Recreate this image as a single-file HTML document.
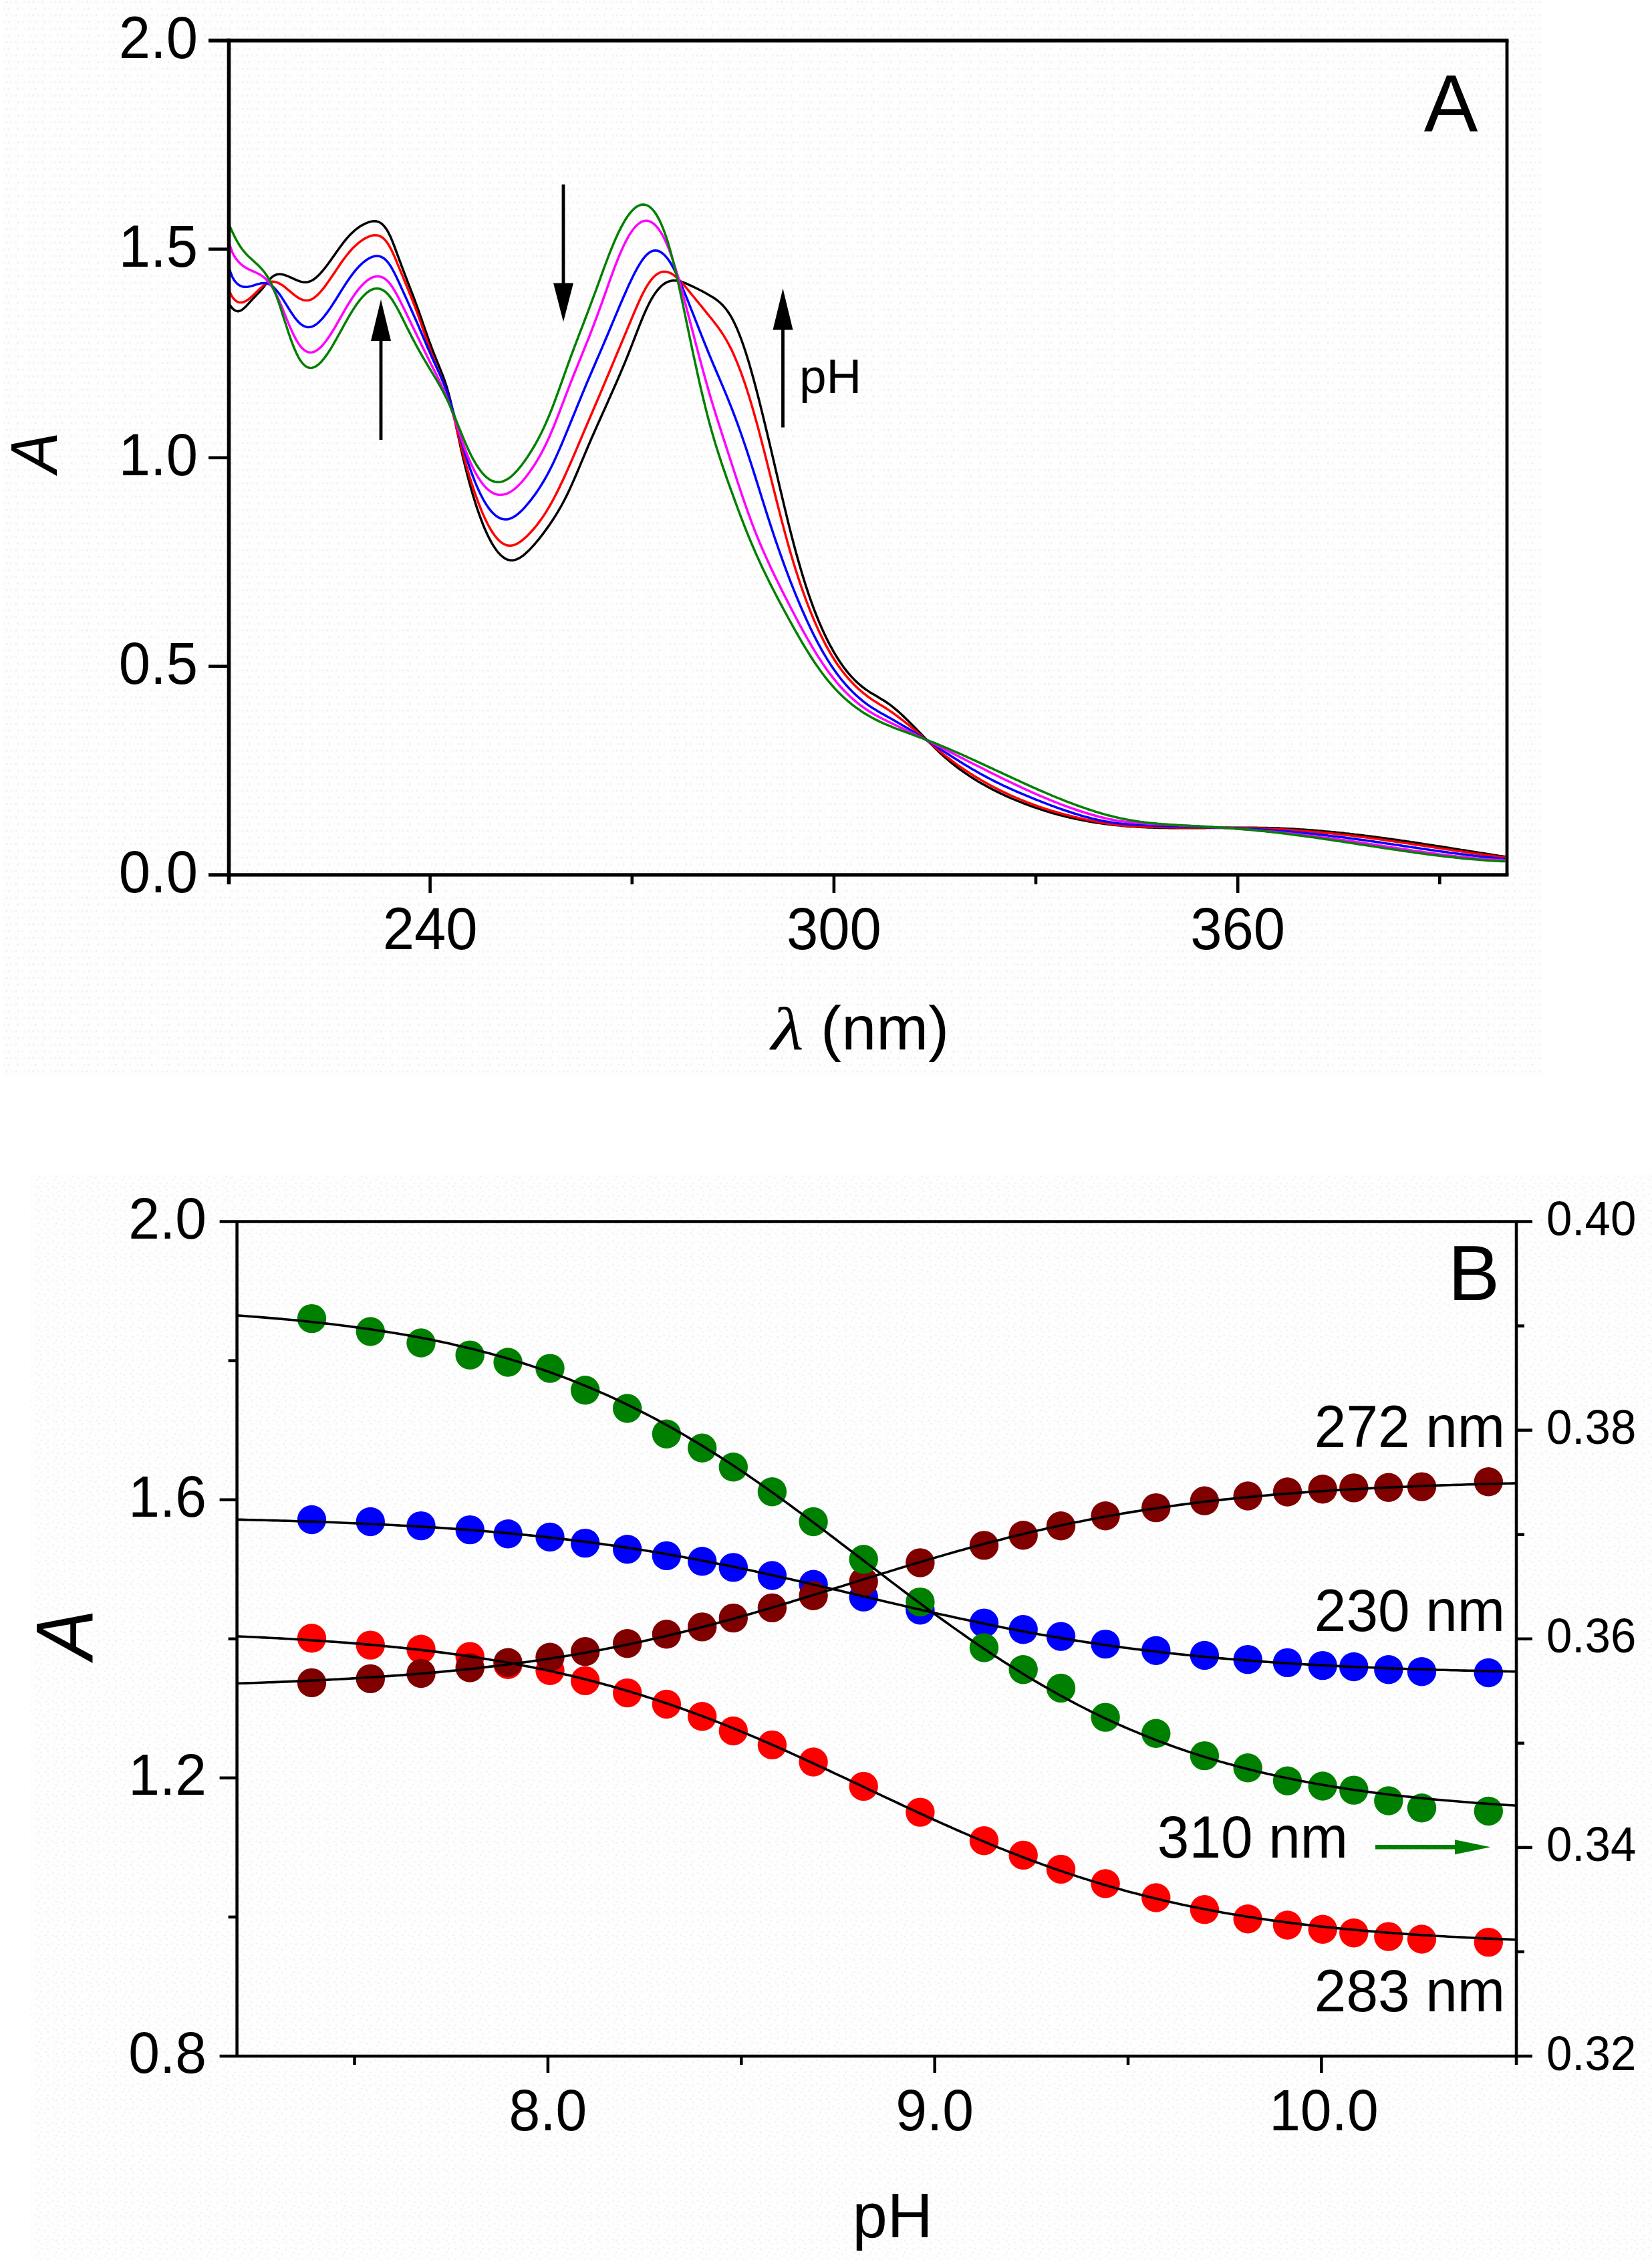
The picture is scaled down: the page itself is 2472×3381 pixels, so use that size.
<!DOCTYPE html>
<html><head><meta charset="utf-8"><title>Figure</title>
<style>html,body{margin:0;padding:0;background:#fff;width:2472px;height:3381px}svg{display:block}text{font-family:"Liberation Sans",sans-serif;fill:#000}.it{font-style:italic}.lam{font-family:"Liberation Serif","DejaVu Serif",serif;font-style:italic}</style>
</head><body>
<svg width="2472" height="3381" viewBox="0 0 2472 3381">
<rect x="0" y="0" width="2472" height="3381" fill="#fff"/>
<defs>
<pattern id="pa" width="40" height="20" patternUnits="userSpaceOnUse"><rect width="40" height="20" fill="#fefefe"/><g opacity="0.45"><circle cx="3" cy="3" r="1.7" fill="#dfe8df"/><circle cx="10" cy="3" r="1.7" fill="#e6dcf6"/><circle cx="17" cy="3" r="1.7" fill="#fbeadb"/><circle cx="24" cy="3" r="1.7" fill="#dfe8df"/><circle cx="37" cy="3" r="1.7" fill="#fbeadb"/><circle cx="6" cy="13" r="1.7" fill="#fbeadb"/><circle cx="13" cy="13" r="1.7" fill="#dfe8df"/><circle cx="27" cy="13" r="1.7" fill="#e6dcf6"/><circle cx="34" cy="13" r="1.7" fill="#fbeadb"/></g></pattern>
<pattern id="pb" width="25.4" height="35" patternUnits="userSpaceOnUse"><rect width="25.4" height="35" fill="#fefefe"/><g opacity="0.45"><circle cx="3" cy="2" r="1.6" fill="#efe6e6"/><circle cx="11" cy="4" r="1.6" fill="#efe6e6"/><circle cx="21" cy="5" r="1.6" fill="#d5e7f4"/><circle cx="8" cy="10" r="1.6" fill="#d5e7f4"/><circle cx="16" cy="12" r="1.6" fill="#efe6e6"/><circle cx="5" cy="15" r="1.6" fill="#efe6e6"/><circle cx="11" cy="20" r="1.6" fill="#efe6e6"/><circle cx="21" cy="20" r="1.6" fill="#efe6e6"/><circle cx="3" cy="25" r="1.6" fill="#efe6e6"/><circle cx="18" cy="25" r="1.6" fill="#d5e7f4"/><circle cx="8" cy="27" r="1.6" fill="#d5e7f4"/><circle cx="21" cy="30" r="1.6" fill="#efe6e6"/><circle cx="11" cy="32" r="1.6" fill="#e6f4d8"/></g></pattern>
</defs>
<rect x="5" y="0" width="2301" height="1611" fill="url(#pa)"/>
<rect x="47" y="1756" width="2425" height="1625" fill="url(#pb)"/>
<g id="panelA">
<clipPath id="clipA"><rect x="341.5" y="60.6" width="1913.5" height="1248.3"/></clipPath>
<g clip-path="url(#clipA)" fill="none" stroke-width="3.5" stroke-linejoin="round">
<path d="M341.5 451.7L344.5 457.1L347.5 461.0L350.5 463.8L353.5 465.3L356.5 465.7L359.5 464.9L362.5 463.2L365.5 460.8L368.5 457.9L371.5 454.6L374.5 451.3L377.5 447.9L380.5 444.7L383.5 441.6L386.5 438.6L389.5 435.3L392.5 431.9L395.5 428.2L398.5 424.3L401.5 420.4L404.5 417.0L407.5 414.1L410.5 412.1L413.5 410.8L416.5 410.2L419.5 410.2L422.5 410.6L425.5 411.3L428.5 412.3L431.5 413.5L434.5 414.8L437.5 416.2L440.5 417.6L443.5 418.9L446.5 420.1L449.5 421.1L452.5 421.9L455.5 422.2L458.5 422.2L461.5 421.7L464.5 420.7L467.5 419.2L470.5 417.2L473.5 414.8L476.5 412.0L479.5 408.9L482.5 405.5L485.5 401.9L488.5 398.0L491.5 394.0L494.5 389.9L497.5 385.6L500.5 381.4L503.5 377.1L506.5 372.9L509.5 368.8L512.5 364.7L515.5 360.9L518.5 357.2L521.5 353.8L524.5 350.6L527.5 347.7L530.5 345.0L533.5 342.5L536.5 340.3L539.5 338.3L542.5 336.6L545.5 335.0L548.5 333.7L551.5 332.5L554.5 331.6L557.5 331.0L560.5 330.8L563.5 331.1L566.5 332.0L569.5 333.5L572.5 335.9L575.5 339.1L578.5 343.2L581.5 348.4L584.5 354.6L587.5 361.8L590.5 369.5L593.5 377.6L596.5 385.8L599.5 393.9L602.5 401.9L605.5 409.8L608.5 417.7L611.5 425.5L614.5 433.2L617.5 441.0L620.5 448.9L623.5 457.0L626.5 465.3L629.5 473.8L632.5 482.5L635.5 491.2L638.5 499.8L641.5 508.3L644.5 516.4L647.5 524.3L650.5 531.9L653.5 539.4L656.5 546.7L659.5 554.1L662.5 561.7L665.5 569.9L668.5 579.0L671.5 589.4L674.5 601.1L677.5 614.1L680.5 627.9L683.5 642.1L686.5 656.2L689.5 669.8L692.5 682.9L695.5 695.4L698.5 707.3L701.5 718.8L704.5 729.6L707.5 740.0L710.5 749.8L713.5 759.2L716.5 767.9L719.5 776.2L722.5 784.0L725.5 791.3L728.5 798.0L731.5 804.2L734.5 809.9L737.5 815.1L740.5 819.8L743.5 824.0L746.5 827.6L749.5 830.7L752.5 833.3L755.5 835.4L758.5 836.9L761.5 837.8L764.5 838.3L767.5 838.2L770.5 837.6L773.5 836.6L776.5 835.2L779.5 833.4L782.5 831.3L785.5 828.8L788.5 826.1L791.5 823.2L794.5 820.1L797.5 816.9L800.5 813.5L803.5 809.9L806.5 806.3L809.5 802.5L812.5 798.6L815.5 794.5L818.5 790.4L821.5 786.2L824.5 781.8L827.5 777.3L830.5 772.6L833.5 767.8L836.5 762.7L839.5 757.5L842.5 752.0L845.5 746.2L848.5 740.3L851.5 734.0L854.5 727.5L857.5 720.8L860.5 714.0L863.5 707.0L866.5 699.9L869.5 692.7L872.5 685.6L875.5 678.4L878.5 671.3L881.5 664.3L884.5 657.3L887.5 650.5L890.5 643.7L893.5 636.9L896.5 630.2L899.5 623.5L902.5 616.9L905.5 610.2L908.5 603.5L911.5 596.8L914.5 590.0L917.5 583.3L920.5 576.5L923.5 569.6L926.5 562.7L929.5 555.6L932.5 548.5L935.5 541.3L938.5 534.0L941.5 526.5L944.5 518.9L947.5 511.1L950.5 503.4L953.5 495.6L956.5 487.9L959.5 480.5L962.5 473.2L965.5 466.2L968.5 459.7L971.5 453.6L974.5 448.0L977.5 443.0L980.5 438.5L983.5 434.5L986.5 431.0L989.5 428.0L992.5 425.5L995.5 423.5L998.5 421.9L1001.5 420.8L1004.5 420.1L1007.5 419.7L1010.5 419.8L1013.5 420.1L1016.5 420.7L1019.5 421.5L1022.5 422.5L1025.5 423.7L1028.5 424.9L1031.5 426.3L1034.5 427.7L1037.5 429.1L1040.5 430.5L1043.5 432.0L1046.5 433.5L1049.5 435.0L1052.5 436.6L1055.5 438.3L1058.5 440.0L1061.5 441.7L1064.5 443.5L1067.5 445.3L1070.5 447.3L1073.5 449.5L1076.5 452.0L1079.5 454.7L1082.5 457.8L1085.5 461.3L1088.5 465.2L1091.5 469.7L1094.5 474.7L1097.5 480.3L1100.5 486.5L1103.5 493.3L1106.5 500.6L1109.5 508.5L1112.5 517.0L1115.5 526.0L1118.5 535.5L1121.5 545.5L1124.5 555.9L1127.5 566.8L1130.5 578.0L1133.5 589.5L1136.5 601.3L1139.5 613.4L1142.5 625.6L1145.5 638.0L1148.5 650.5L1151.5 663.2L1154.5 675.9L1157.5 688.7L1160.5 701.6L1163.5 714.4L1166.5 727.3L1169.5 740.0L1172.5 752.7L1175.5 765.2L1178.5 777.6L1181.5 789.6L1184.5 801.5L1187.5 813.0L1190.5 824.2L1193.5 835.0L1196.5 845.6L1199.5 855.8L1202.5 865.7L1205.5 875.2L1208.5 884.4L1211.5 893.2L1214.5 901.7L1217.5 909.9L1220.5 917.7L1223.5 925.2L1226.5 932.4L1229.5 939.3L1232.5 945.9L1235.5 952.3L1238.5 958.4L1241.5 964.2L1244.5 969.7L1247.5 975.1L1250.5 980.1L1253.5 985.0L1256.5 989.6L1259.5 994.0L1262.5 998.2L1265.5 1002.1L1268.5 1005.9L1271.5 1009.4L1274.5 1012.8L1277.5 1015.9L1280.5 1018.9L1283.5 1021.7L1286.5 1024.3L1289.5 1026.8L1292.5 1029.2L1295.5 1031.4L1298.5 1033.4L1301.5 1035.4L1304.5 1037.3L1307.5 1039.1L1310.5 1040.8L1313.5 1042.6L1316.5 1044.4L1319.5 1046.2L1322.5 1048.0L1325.5 1049.9L1328.5 1052.0L1331.5 1054.1L1334.5 1056.4L1337.5 1058.8L1340.5 1061.3L1343.5 1063.9L1346.5 1066.5L1349.5 1069.3L1352.5 1072.1L1355.5 1075.0L1358.5 1077.9L1361.5 1080.9L1364.5 1083.9L1367.5 1087.0L1370.5 1090.0L1373.5 1093.1L1376.5 1096.2L1379.5 1099.3L1382.5 1102.4L1385.5 1105.5L1388.5 1108.5L1391.5 1111.5L1394.5 1114.5L1397.5 1117.5L1400.5 1120.4L1403.5 1123.3L1406.5 1126.1L1409.5 1128.9L1412.5 1131.6L1415.5 1134.2L1418.5 1136.8L1421.5 1139.3L1424.5 1141.8L1427.5 1144.2L1430.5 1146.5L1433.5 1148.8L1436.5 1151.0L1439.5 1153.2L1442.5 1155.3L1445.5 1157.4L1448.5 1159.4L1451.5 1161.4L1454.5 1163.3L1457.5 1165.2L1460.5 1167.1L1463.5 1168.9L1466.5 1170.7L1469.5 1172.4L1472.5 1174.1L1475.5 1175.8L1478.5 1177.4L1481.5 1179.0L1484.5 1180.6L1487.5 1182.1L1490.5 1183.6L1493.5 1185.1L1496.5 1186.6L1499.5 1188.0L1502.5 1189.4L1505.5 1190.8L1508.5 1192.1L1511.5 1193.5L1514.5 1194.8L1517.5 1196.0L1520.5 1197.3L1523.5 1198.5L1526.5 1199.7L1529.5 1200.9L1532.5 1202.1L1535.5 1203.2L1538.5 1204.3L1541.5 1205.4L1544.5 1206.5L1547.5 1207.6L1550.5 1208.6L1553.5 1209.6L1556.5 1210.6L1559.5 1211.6L1562.5 1212.6L1565.5 1213.5L1568.5 1214.4L1571.5 1215.3L1574.5 1216.2L1577.5 1217.0L1580.5 1217.9L1583.5 1218.7L1586.5 1219.5L1589.5 1220.3L1592.5 1221.0L1595.5 1221.8L1598.5 1222.5L1601.5 1223.2L1604.5 1223.9L1607.5 1224.5L1610.5 1225.2L1613.5 1225.8L1616.5 1226.4L1619.5 1227.0L1622.5 1227.6L1625.5 1228.1L1628.5 1228.7L1631.5 1229.2L1634.5 1229.7L1637.5 1230.2L1640.5 1230.7L1643.5 1231.1L1646.5 1231.6L1649.5 1232.0L1652.5 1232.4L1655.5 1232.8L1658.5 1233.2L1661.5 1233.5L1664.5 1233.9L1667.5 1234.2L1670.5 1234.5L1673.5 1234.8L1676.5 1235.1L1679.5 1235.4L1682.5 1235.7L1685.5 1235.9L1688.5 1236.2L1691.5 1236.4L1694.5 1236.6L1697.5 1236.8L1700.5 1237.0L1703.5 1237.2L1706.5 1237.3L1709.5 1237.5L1712.5 1237.6L1715.5 1237.8L1718.5 1237.9L1721.5 1238.0L1724.5 1238.1L1727.5 1238.2L1730.5 1238.3L1733.5 1238.4L1736.5 1238.5L1739.5 1238.5L1742.5 1238.6L1745.5 1238.6L1748.5 1238.7L1751.5 1238.7L1754.5 1238.8L1757.5 1238.8L1760.5 1238.8L1763.5 1238.8L1766.5 1238.8L1769.5 1238.8L1772.5 1238.8L1775.5 1238.8L1778.5 1238.8L1781.5 1238.8L1784.5 1238.8L1787.5 1238.8L1790.5 1238.8L1793.5 1238.7L1796.5 1238.7L1799.5 1238.7L1802.5 1238.7L1805.5 1238.6L1808.5 1238.6L1811.5 1238.6L1814.5 1238.5L1817.5 1238.5L1820.5 1238.5L1823.5 1238.5L1826.5 1238.4L1829.5 1238.4L1832.5 1238.4L1835.5 1238.3L1838.5 1238.3L1841.5 1238.3L1844.5 1238.3L1847.5 1238.3L1850.5 1238.2L1853.5 1238.2L1856.5 1238.2L1859.5 1238.2L1862.5 1238.2L1865.5 1238.2L1868.5 1238.2L1871.5 1238.2L1874.5 1238.3L1877.5 1238.3L1880.5 1238.3L1883.5 1238.4L1886.5 1238.4L1889.5 1238.5L1892.5 1238.5L1895.5 1238.6L1898.5 1238.7L1901.5 1238.7L1904.5 1238.8L1907.5 1238.9L1910.5 1239.0L1913.5 1239.1L1916.5 1239.3L1919.5 1239.4L1922.5 1239.5L1925.5 1239.7L1928.5 1239.8L1931.5 1240.0L1934.5 1240.1L1937.5 1240.3L1940.5 1240.5L1943.5 1240.7L1946.5 1240.9L1949.5 1241.1L1952.5 1241.3L1955.5 1241.5L1958.5 1241.7L1961.5 1241.9L1964.5 1242.1L1967.5 1242.4L1970.5 1242.6L1973.5 1242.9L1976.5 1243.1L1979.5 1243.4L1982.5 1243.7L1985.5 1243.9L1988.5 1244.2L1991.5 1244.5L1994.5 1244.8L1997.5 1245.1L2000.5 1245.4L2003.5 1245.7L2006.5 1246.0L2009.5 1246.3L2012.5 1246.7L2015.5 1247.0L2018.5 1247.3L2021.5 1247.7L2024.5 1248.0L2027.5 1248.4L2030.5 1248.7L2033.5 1249.1L2036.5 1249.4L2039.5 1249.8L2042.5 1250.2L2045.5 1250.5L2048.5 1250.9L2051.5 1251.3L2054.5 1251.7L2057.5 1252.1L2060.5 1252.5L2063.5 1252.9L2066.5 1253.3L2069.5 1253.7L2072.5 1254.1L2075.5 1254.5L2078.5 1254.9L2081.5 1255.3L2084.5 1255.8L2087.5 1256.2L2090.5 1256.6L2093.5 1257.0L2096.5 1257.5L2099.5 1257.9L2102.5 1258.3L2105.5 1258.8L2108.5 1259.2L2111.5 1259.7L2114.5 1260.1L2117.5 1260.6L2120.5 1261.0L2123.5 1261.5L2126.5 1261.9L2129.5 1262.4L2132.5 1262.9L2135.5 1263.3L2138.5 1263.8L2141.5 1264.2L2144.5 1264.7L2147.5 1265.2L2150.5 1265.7L2153.5 1266.1L2156.5 1266.6L2159.5 1267.1L2162.5 1267.5L2165.5 1268.0L2168.5 1268.5L2171.5 1269.0L2174.5 1269.4L2177.5 1269.9L2180.5 1270.4L2183.5 1270.9L2186.5 1271.4L2189.5 1271.8L2192.5 1272.3L2195.5 1272.8L2198.5 1273.3L2201.5 1273.8L2204.5 1274.2L2207.5 1274.7L2210.5 1275.2L2213.5 1275.7L2216.5 1276.1L2219.5 1276.6L2222.5 1277.1L2225.5 1277.6L2228.5 1278.0L2231.5 1278.5L2234.5 1279.0L2237.5 1279.4L2240.5 1279.9L2243.5 1280.4L2246.5 1280.8L2249.5 1281.3L2252.5 1281.8" stroke="#000"/>
<path d="M341.5 430.9L344.5 438.4L347.5 444.0L350.5 447.9L353.5 450.5L356.5 452.0L359.5 452.6L362.5 452.4L365.5 451.5L368.5 450.0L371.5 448.0L374.5 445.6L377.5 443.0L380.5 440.1L383.5 437.2L386.5 434.2L389.5 431.4L392.5 428.7L395.5 426.3L398.5 424.2L401.5 422.6L404.5 421.7L407.5 421.3L410.5 421.5L413.5 422.2L416.5 423.4L419.5 424.9L422.5 426.8L425.5 428.9L428.5 431.3L431.5 433.8L434.5 436.3L437.5 438.9L440.5 441.3L443.5 443.5L446.5 445.5L449.5 447.2L452.5 448.4L455.5 449.2L458.5 449.6L461.5 449.3L464.5 448.5L467.5 447.1L470.5 445.1L473.5 442.7L476.5 439.9L479.5 436.7L482.5 433.2L485.5 429.4L488.5 425.3L491.5 421.1L494.5 416.8L497.5 412.3L500.5 407.9L503.5 403.4L506.5 399.0L509.5 394.6L512.5 390.3L515.5 386.2L518.5 382.3L521.5 378.5L524.5 375.0L527.5 371.8L530.5 368.8L533.5 366.0L536.5 363.4L539.5 361.1L542.5 359.0L545.5 357.1L548.5 355.5L551.5 354.2L554.5 353.0L557.5 352.2L560.5 351.8L563.5 351.9L566.5 352.5L569.5 353.7L572.5 355.6L575.5 358.3L578.5 361.8L581.5 366.2L584.5 371.6L587.5 377.7L590.5 384.4L593.5 391.5L596.5 398.8L599.5 406.0L602.5 413.2L605.5 420.5L608.5 427.8L611.5 435.1L614.5 442.5L617.5 450.1L620.5 457.8L623.5 465.7L626.5 474.0L629.5 482.5L632.5 491.1L635.5 499.9L638.5 508.6L641.5 517.0L644.5 525.2L647.5 533.1L650.5 540.8L653.5 548.2L656.5 555.4L659.5 562.6L662.5 569.8L665.5 577.5L668.5 585.8L671.5 595.2L674.5 605.6L677.5 617.0L680.5 629.1L683.5 641.5L686.5 653.8L689.5 665.8L692.5 677.3L695.5 688.4L698.5 699.0L701.5 709.2L704.5 719.0L707.5 728.3L710.5 737.2L713.5 745.7L716.5 753.8L719.5 761.4L722.5 768.6L725.5 775.3L728.5 781.5L731.5 787.3L734.5 792.5L737.5 797.3L740.5 801.5L743.5 805.2L746.5 808.4L749.5 811.0L752.5 813.1L755.5 814.7L758.5 815.8L761.5 816.3L764.5 816.3L767.5 815.8L770.5 814.9L773.5 813.5L776.5 811.8L779.5 809.8L782.5 807.4L785.5 804.8L788.5 802.0L791.5 799.0L794.5 795.8L797.5 792.5L800.5 789.0L803.5 785.3L806.5 781.4L809.5 777.3L812.5 773.0L815.5 768.4L818.5 763.7L821.5 758.7L824.5 753.4L827.5 748.0L830.5 742.3L833.5 736.4L836.5 730.4L839.5 724.1L842.5 717.7L845.5 711.2L848.5 704.6L851.5 697.8L854.5 691.0L857.5 684.1L860.5 677.1L863.5 670.1L866.5 663.0L869.5 656.0L872.5 648.9L875.5 641.8L878.5 634.8L881.5 627.7L884.5 620.7L887.5 613.7L890.5 606.7L893.5 599.7L896.5 592.7L899.5 585.6L902.5 578.5L905.5 571.4L908.5 564.3L911.5 557.2L914.5 550.0L917.5 542.9L920.5 535.7L923.5 528.6L926.5 521.4L929.5 514.2L932.5 507.1L935.5 499.9L938.5 492.7L941.5 485.5L944.5 478.3L947.5 471.1L950.5 464.1L953.5 457.2L956.5 450.5L959.5 444.1L962.5 438.0L965.5 432.4L968.5 427.2L971.5 422.6L974.5 418.5L977.5 415.1L980.5 412.2L983.5 409.9L986.5 408.2L989.5 407.0L992.5 406.4L995.5 406.4L998.5 406.8L1001.5 407.8L1004.5 409.2L1007.5 411.1L1010.5 413.4L1013.5 416.0L1016.5 418.9L1019.5 422.1L1022.5 425.4L1025.5 428.9L1028.5 432.5L1031.5 436.1L1034.5 439.8L1037.5 443.5L1040.5 447.2L1043.5 450.8L1046.5 454.5L1049.5 458.2L1052.5 461.9L1055.5 465.6L1058.5 469.3L1061.5 473.0L1064.5 476.7L1067.5 480.5L1070.5 484.3L1073.5 488.3L1076.5 492.4L1079.5 496.8L1082.5 501.4L1085.5 506.3L1088.5 511.5L1091.5 517.1L1094.5 523.1L1097.5 529.5L1100.5 536.4L1103.5 543.6L1106.5 551.2L1109.5 559.2L1112.5 567.6L1115.5 576.3L1118.5 585.5L1121.5 595.1L1124.5 605.0L1127.5 615.3L1130.5 625.9L1133.5 636.8L1136.5 648.1L1139.5 659.5L1142.5 671.1L1145.5 682.9L1148.5 694.9L1151.5 706.9L1154.5 718.9L1157.5 730.9L1160.5 742.8L1163.5 754.7L1166.5 766.4L1169.5 778.0L1172.5 789.4L1175.5 800.5L1178.5 811.4L1181.5 822.0L1184.5 832.3L1187.5 842.2L1190.5 851.9L1193.5 861.3L1196.5 870.4L1199.5 879.2L1202.5 887.7L1205.5 896.0L1208.5 904.0L1211.5 911.7L1214.5 919.2L1217.5 926.4L1220.5 933.4L1223.5 940.1L1226.5 946.6L1229.5 952.8L1232.5 958.8L1235.5 964.6L1238.5 970.1L1241.5 975.4L1244.5 980.5L1247.5 985.3L1250.5 990.0L1253.5 994.5L1256.5 998.7L1259.5 1002.8L1262.5 1006.7L1265.5 1010.4L1268.5 1014.0L1271.5 1017.4L1274.5 1020.6L1277.5 1023.8L1280.5 1026.7L1283.5 1029.6L1286.5 1032.3L1289.5 1034.9L1292.5 1037.3L1295.5 1039.7L1298.5 1042.0L1301.5 1044.1L1304.5 1046.2L1307.5 1048.2L1310.5 1050.1L1313.5 1052.0L1316.5 1053.9L1319.5 1055.7L1322.5 1057.6L1325.5 1059.5L1328.5 1061.4L1331.5 1063.4L1334.5 1065.5L1337.5 1067.6L1340.5 1069.8L1343.5 1072.0L1346.5 1074.3L1349.5 1076.6L1352.5 1078.9L1355.5 1081.3L1358.5 1083.7L1361.5 1086.2L1364.5 1088.6L1367.5 1091.1L1370.5 1093.7L1373.5 1096.2L1376.5 1098.8L1379.5 1101.3L1382.5 1103.9L1385.5 1106.5L1388.5 1109.0L1391.5 1111.6L1394.5 1114.2L1397.5 1116.7L1400.5 1119.2L1403.5 1121.7L1406.5 1124.2L1409.5 1126.6L1412.5 1129.0L1415.5 1131.4L1418.5 1133.7L1421.5 1136.0L1424.5 1138.2L1427.5 1140.4L1430.5 1142.6L1433.5 1144.8L1436.5 1146.9L1439.5 1148.9L1442.5 1151.0L1445.5 1153.0L1448.5 1154.9L1451.5 1156.9L1454.5 1158.8L1457.5 1160.7L1460.5 1162.5L1463.5 1164.3L1466.5 1166.1L1469.5 1167.9L1472.5 1169.6L1475.5 1171.3L1478.5 1172.9L1481.5 1174.6L1484.5 1176.2L1487.5 1177.8L1490.5 1179.3L1493.5 1180.9L1496.5 1182.4L1499.5 1183.8L1502.5 1185.3L1505.5 1186.7L1508.5 1188.1L1511.5 1189.5L1514.5 1190.8L1517.5 1192.2L1520.5 1193.5L1523.5 1194.7L1526.5 1196.0L1529.5 1197.2L1532.5 1198.4L1535.5 1199.6L1538.5 1200.8L1541.5 1201.9L1544.5 1203.0L1547.5 1204.1L1550.5 1205.2L1553.5 1206.3L1556.5 1207.3L1559.5 1208.3L1562.5 1209.3L1565.5 1210.3L1568.5 1211.3L1571.5 1212.2L1574.5 1213.1L1577.5 1214.0L1580.5 1214.9L1583.5 1215.8L1586.5 1216.6L1589.5 1217.4L1592.5 1218.2L1595.5 1219.0L1598.5 1219.8L1601.5 1220.6L1604.5 1221.3L1607.5 1222.1L1610.5 1222.8L1613.5 1223.5L1616.5 1224.2L1619.5 1224.8L1622.5 1225.5L1625.5 1226.1L1628.5 1226.7L1631.5 1227.4L1634.5 1228.0L1637.5 1228.5L1640.5 1229.1L1643.5 1229.7L1646.5 1230.2L1649.5 1230.7L1652.5 1231.3L1655.5 1231.7L1658.5 1232.2L1661.5 1232.7L1664.5 1233.1L1667.5 1233.5L1670.5 1233.9L1673.5 1234.3L1676.5 1234.6L1679.5 1234.9L1682.5 1235.2L1685.5 1235.4L1688.5 1235.6L1691.5 1235.8L1694.5 1236.0L1697.5 1236.2L1700.5 1236.3L1703.5 1236.4L1706.5 1236.6L1709.5 1236.7L1712.5 1236.8L1715.5 1236.9L1718.5 1237.0L1721.5 1237.1L1724.5 1237.2L1727.5 1237.3L1730.5 1237.4L1733.5 1237.4L1736.5 1237.5L1739.5 1237.6L1742.5 1237.6L1745.5 1237.7L1748.5 1237.7L1751.5 1237.8L1754.5 1237.8L1757.5 1237.8L1760.5 1237.9L1763.5 1237.9L1766.5 1237.9L1769.5 1237.9L1772.5 1237.9L1775.5 1237.9L1778.5 1238.0L1781.5 1238.0L1784.5 1238.0L1787.5 1238.0L1790.5 1238.0L1793.5 1238.0L1796.5 1238.0L1799.5 1238.1L1802.5 1238.1L1805.5 1238.1L1808.5 1238.1L1811.5 1238.1L1814.5 1238.1L1817.5 1238.2L1820.5 1238.2L1823.5 1238.2L1826.5 1238.2L1829.5 1238.2L1832.5 1238.3L1835.5 1238.3L1838.5 1238.3L1841.5 1238.4L1844.5 1238.4L1847.5 1238.5L1850.5 1238.5L1853.5 1238.6L1856.5 1238.6L1859.5 1238.7L1862.5 1238.7L1865.5 1238.8L1868.5 1238.9L1871.5 1239.0L1874.5 1239.0L1877.5 1239.1L1880.5 1239.2L1883.5 1239.3L1886.5 1239.4L1889.5 1239.5L1892.5 1239.6L1895.5 1239.8L1898.5 1239.9L1901.5 1240.0L1904.5 1240.2L1907.5 1240.3L1910.5 1240.4L1913.5 1240.6L1916.5 1240.8L1919.5 1240.9L1922.5 1241.1L1925.5 1241.3L1928.5 1241.5L1931.5 1241.7L1934.5 1241.9L1937.5 1242.1L1940.5 1242.3L1943.5 1242.5L1946.5 1242.7L1949.5 1243.0L1952.5 1243.2L1955.5 1243.4L1958.5 1243.7L1961.5 1243.9L1964.5 1244.2L1967.5 1244.5L1970.5 1244.7L1973.5 1245.0L1976.5 1245.3L1979.5 1245.6L1982.5 1245.9L1985.5 1246.2L1988.5 1246.5L1991.5 1246.8L1994.5 1247.1L1997.5 1247.4L2000.5 1247.7L2003.5 1248.0L2006.5 1248.4L2009.5 1248.7L2012.5 1249.1L2015.5 1249.4L2018.5 1249.8L2021.5 1250.1L2024.5 1250.5L2027.5 1250.8L2030.5 1251.2L2033.5 1251.6L2036.5 1252.0L2039.5 1252.3L2042.5 1252.7L2045.5 1253.1L2048.5 1253.5L2051.5 1253.9L2054.5 1254.3L2057.5 1254.7L2060.5 1255.1L2063.5 1255.6L2066.5 1256.0L2069.5 1256.4L2072.5 1256.8L2075.5 1257.2L2078.5 1257.7L2081.5 1258.1L2084.5 1258.5L2087.5 1259.0L2090.5 1259.4L2093.5 1259.8L2096.5 1260.3L2099.5 1260.7L2102.5 1261.2L2105.5 1261.6L2108.5 1262.1L2111.5 1262.5L2114.5 1262.9L2117.5 1263.4L2120.5 1263.9L2123.5 1264.3L2126.5 1264.8L2129.5 1265.2L2132.5 1265.7L2135.5 1266.1L2138.5 1266.6L2141.5 1267.0L2144.5 1267.5L2147.5 1267.9L2150.5 1268.4L2153.5 1268.9L2156.5 1269.3L2159.5 1269.8L2162.5 1270.2L2165.5 1270.7L2168.5 1271.1L2171.5 1271.6L2174.5 1272.0L2177.5 1272.5L2180.5 1272.9L2183.5 1273.4L2186.5 1273.8L2189.5 1274.3L2192.5 1274.7L2195.5 1275.1L2198.5 1275.6L2201.5 1276.0L2204.5 1276.4L2207.5 1276.9L2210.5 1277.3L2213.5 1277.7L2216.5 1278.1L2219.5 1278.6L2222.5 1279.0L2225.5 1279.4L2228.5 1279.8L2231.5 1280.2L2234.5 1280.6L2237.5 1281.0L2240.5 1281.4L2243.5 1281.8L2246.5 1282.2L2249.5 1282.6L2252.5 1283.0" stroke="#f00"/>
<path d="M341.5 395.6L344.5 406.1L347.5 414.0L350.5 419.4L353.5 423.0L356.5 425.7L359.5 427.5L362.5 428.7L365.5 429.3L368.5 429.3L371.5 429.0L374.5 428.4L377.5 427.6L380.5 426.7L383.5 425.7L386.5 424.9L389.5 424.1L392.5 423.7L395.5 423.5L398.5 423.8L401.5 424.6L404.5 426.1L407.5 428.2L410.5 430.9L413.5 434.1L416.5 437.8L419.5 441.9L422.5 446.4L425.5 451.1L428.5 455.9L431.5 460.7L434.5 465.5L437.5 470.0L440.5 474.3L443.5 478.1L446.5 481.5L449.5 484.4L452.5 486.6L455.5 488.2L458.5 489.2L461.5 489.6L464.5 489.3L467.5 488.4L470.5 487.0L473.5 485.0L476.5 482.5L479.5 479.6L482.5 476.4L485.5 472.8L488.5 468.9L491.5 464.8L494.5 460.5L497.5 455.9L500.5 451.3L503.5 446.6L506.5 441.8L509.5 436.9L512.5 432.1L515.5 427.4L518.5 422.8L521.5 418.4L524.5 414.1L527.5 410.1L530.5 406.2L533.5 402.7L536.5 399.3L539.5 396.3L542.5 393.5L545.5 391.0L548.5 388.8L551.5 386.9L554.5 385.3L557.5 384.1L560.5 383.3L563.5 382.9L566.5 383.1L569.5 383.9L572.5 385.3L575.5 387.3L578.5 390.2L581.5 393.8L584.5 398.2L587.5 403.3L590.5 409.0L593.5 415.1L596.5 421.5L599.5 428.0L602.5 434.6L605.5 441.2L608.5 447.9L611.5 454.6L614.5 461.3L617.5 468.0L620.5 474.7L623.5 481.5L626.5 488.4L629.5 495.5L632.5 502.5L635.5 509.6L638.5 516.7L641.5 523.6L644.5 530.4L647.5 537.0L650.5 543.6L653.5 550.2L656.5 556.7L659.5 563.4L662.5 570.2L665.5 577.5L668.5 585.3L671.5 594.0L674.5 603.4L677.5 613.6L680.5 624.3L683.5 635.2L686.5 646.1L689.5 656.8L692.5 667.1L695.5 677.0L698.5 686.5L701.5 695.6L704.5 704.2L707.5 712.4L710.5 720.1L713.5 727.3L716.5 734.0L719.5 740.3L722.5 746.0L725.5 751.3L728.5 756.1L731.5 760.4L734.5 764.2L737.5 767.5L740.5 770.3L743.5 772.6L746.5 774.4L749.5 775.8L752.5 776.6L755.5 777.0L758.5 776.9L761.5 776.4L764.5 775.4L767.5 774.0L770.5 772.2L773.5 770.1L776.5 767.6L779.5 764.9L782.5 761.9L785.5 758.7L788.5 755.2L791.5 751.6L794.5 747.9L797.5 743.9L800.5 739.9L803.5 735.6L806.5 731.1L809.5 726.4L812.5 721.5L815.5 716.4L818.5 711.0L821.5 705.4L824.5 699.5L827.5 693.4L830.5 687.0L833.5 680.4L836.5 673.6L839.5 666.7L842.5 659.6L845.5 652.4L848.5 645.2L851.5 637.8L854.5 630.5L857.5 623.1L860.5 615.8L863.5 608.4L866.5 601.1L869.5 593.8L872.5 586.6L875.5 579.4L878.5 572.2L881.5 565.2L884.5 558.2L887.5 551.2L890.5 544.3L893.5 537.3L896.5 530.4L899.5 523.4L902.5 516.4L905.5 509.3L908.5 502.2L911.5 495.1L914.5 488.0L917.5 480.9L920.5 473.7L923.5 466.6L926.5 459.5L929.5 452.5L932.5 445.5L935.5 438.7L938.5 431.9L941.5 425.3L944.5 418.9L947.5 412.7L950.5 406.8L953.5 401.3L956.5 396.1L959.5 391.4L962.5 387.1L965.5 383.5L968.5 380.4L971.5 377.9L974.5 376.2L977.5 375.1L980.5 374.7L983.5 375.0L986.5 376.0L989.5 377.6L992.5 379.9L995.5 382.8L998.5 386.3L1001.5 390.5L1004.5 395.3L1007.5 400.6L1010.5 406.4L1013.5 412.7L1016.5 419.2L1019.5 426.1L1022.5 433.3L1025.5 440.6L1028.5 448.0L1031.5 455.6L1034.5 463.1L1037.5 470.7L1040.5 478.3L1043.5 485.9L1046.5 493.5L1049.5 501.1L1052.5 508.6L1055.5 516.1L1058.5 523.5L1061.5 530.9L1064.5 538.1L1067.5 545.2L1070.5 552.3L1073.5 559.3L1076.5 566.3L1079.5 573.4L1082.5 580.4L1085.5 587.6L1088.5 594.8L1091.5 602.3L1094.5 609.8L1097.5 617.6L1100.5 625.6L1103.5 633.7L1106.5 642.0L1109.5 650.5L1112.5 659.2L1115.5 668.0L1118.5 677.1L1121.5 686.2L1124.5 695.5L1127.5 704.9L1130.5 714.4L1133.5 724.0L1136.5 733.6L1139.5 743.2L1142.5 752.7L1145.5 762.2L1148.5 771.6L1151.5 780.9L1154.5 790.1L1157.5 799.2L1160.5 808.1L1163.5 816.8L1166.5 825.5L1169.5 833.9L1172.5 842.3L1175.5 850.5L1178.5 858.5L1181.5 866.4L1184.5 874.1L1187.5 881.6L1190.5 889.1L1193.5 896.3L1196.5 903.5L1199.5 910.5L1202.5 917.3L1205.5 924.0L1208.5 930.6L1211.5 937.0L1214.5 943.3L1217.5 949.4L1220.5 955.3L1223.5 961.1L1226.5 966.7L1229.5 972.1L1232.5 977.4L1235.5 982.4L1238.5 987.4L1241.5 992.1L1244.5 996.7L1247.5 1001.1L1250.5 1005.3L1253.5 1009.4L1256.5 1013.3L1259.5 1017.1L1262.5 1020.7L1265.5 1024.2L1268.5 1027.5L1271.5 1030.7L1274.5 1033.8L1277.5 1036.8L1280.5 1039.6L1283.5 1042.3L1286.5 1044.9L1289.5 1047.4L1292.5 1049.8L1295.5 1052.1L1298.5 1054.3L1301.5 1056.4L1304.5 1058.4L1307.5 1060.3L1310.5 1062.1L1313.5 1063.9L1316.5 1065.7L1319.5 1067.4L1322.5 1069.1L1325.5 1070.7L1328.5 1072.4L1331.5 1074.1L1334.5 1075.8L1337.5 1077.5L1340.5 1079.2L1343.5 1081.0L1346.5 1082.7L1349.5 1084.5L1352.5 1086.2L1355.5 1088.0L1358.5 1089.8L1361.5 1091.6L1364.5 1093.5L1367.5 1095.3L1370.5 1097.2L1373.5 1099.0L1376.5 1100.9L1379.5 1102.8L1382.5 1104.8L1385.5 1106.7L1388.5 1108.6L1391.5 1110.5L1394.5 1112.5L1397.5 1114.4L1400.5 1116.4L1403.5 1118.4L1406.5 1120.3L1409.5 1122.3L1412.5 1124.2L1415.5 1126.2L1418.5 1128.1L1421.5 1130.0L1424.5 1131.9L1427.5 1133.8L1430.5 1135.7L1433.5 1137.6L1436.5 1139.5L1439.5 1141.3L1442.5 1143.2L1445.5 1145.0L1448.5 1146.8L1451.5 1148.6L1454.5 1150.4L1457.5 1152.1L1460.5 1153.8L1463.5 1155.5L1466.5 1157.2L1469.5 1158.9L1472.5 1160.5L1475.5 1162.1L1478.5 1163.7L1481.5 1165.3L1484.5 1166.8L1487.5 1168.4L1490.5 1169.9L1493.5 1171.3L1496.5 1172.8L1499.5 1174.2L1502.5 1175.7L1505.5 1177.1L1508.5 1178.4L1511.5 1179.8L1514.5 1181.1L1517.5 1182.5L1520.5 1183.8L1523.5 1185.1L1526.5 1186.4L1529.5 1187.7L1532.5 1188.9L1535.5 1190.2L1538.5 1191.4L1541.5 1192.7L1544.5 1193.9L1547.5 1195.1L1550.5 1196.3L1553.5 1197.5L1556.5 1198.7L1559.5 1199.9L1562.5 1201.0L1565.5 1202.2L1568.5 1203.3L1571.5 1204.5L1574.5 1205.6L1577.5 1206.7L1580.5 1207.8L1583.5 1208.9L1586.5 1209.9L1589.5 1211.0L1592.5 1212.0L1595.5 1213.0L1598.5 1214.0L1601.5 1215.0L1604.5 1216.0L1607.5 1217.0L1610.5 1217.9L1613.5 1218.8L1616.5 1219.7L1619.5 1220.6L1622.5 1221.4L1625.5 1222.2L1628.5 1223.0L1631.5 1223.8L1634.5 1224.6L1637.5 1225.3L1640.5 1226.0L1643.5 1226.7L1646.5 1227.3L1649.5 1227.9L1652.5 1228.5L1655.5 1229.1L1658.5 1229.6L1661.5 1230.1L1664.5 1230.5L1667.5 1231.0L1670.5 1231.3L1673.5 1231.7L1676.5 1232.0L1679.5 1232.3L1682.5 1232.6L1685.5 1232.8L1688.5 1233.0L1691.5 1233.2L1694.5 1233.4L1697.5 1233.5L1700.5 1233.7L1703.5 1233.9L1706.5 1234.0L1709.5 1234.2L1712.5 1234.3L1715.5 1234.5L1718.5 1234.6L1721.5 1234.8L1724.5 1234.9L1727.5 1235.1L1730.5 1235.2L1733.5 1235.3L1736.5 1235.4L1739.5 1235.6L1742.5 1235.7L1745.5 1235.8L1748.5 1235.9L1751.5 1236.0L1754.5 1236.1L1757.5 1236.1L1760.5 1236.2L1763.5 1236.3L1766.5 1236.4L1769.5 1236.5L1772.5 1236.5L1775.5 1236.6L1778.5 1236.7L1781.5 1236.8L1784.5 1236.9L1787.5 1236.9L1790.5 1237.0L1793.5 1237.1L1796.5 1237.2L1799.5 1237.3L1802.5 1237.4L1805.5 1237.5L1808.5 1237.6L1811.5 1237.7L1814.5 1237.8L1817.5 1237.9L1820.5 1238.0L1823.5 1238.1L1826.5 1238.2L1829.5 1238.3L1832.5 1238.4L1835.5 1238.5L1838.5 1238.6L1841.5 1238.7L1844.5 1238.9L1847.5 1239.0L1850.5 1239.1L1853.5 1239.3L1856.5 1239.4L1859.5 1239.6L1862.5 1239.7L1865.5 1239.9L1868.5 1240.0L1871.5 1240.2L1874.5 1240.3L1877.5 1240.5L1880.5 1240.7L1883.5 1240.8L1886.5 1241.0L1889.5 1241.2L1892.5 1241.4L1895.5 1241.6L1898.5 1241.8L1901.5 1242.0L1904.5 1242.2L1907.5 1242.4L1910.5 1242.7L1913.5 1242.9L1916.5 1243.1L1919.5 1243.4L1922.5 1243.6L1925.5 1243.9L1928.5 1244.1L1931.5 1244.4L1934.5 1244.6L1937.5 1244.9L1940.5 1245.2L1943.5 1245.4L1946.5 1245.7L1949.5 1246.0L1952.5 1246.3L1955.5 1246.6L1958.5 1246.9L1961.5 1247.2L1964.5 1247.5L1967.5 1247.8L1970.5 1248.1L1973.5 1248.5L1976.5 1248.8L1979.5 1249.1L1982.5 1249.5L1985.5 1249.8L1988.5 1250.2L1991.5 1250.5L1994.5 1250.9L1997.5 1251.2L2000.5 1251.6L2003.5 1252.0L2006.5 1252.3L2009.5 1252.7L2012.5 1253.1L2015.5 1253.5L2018.5 1253.9L2021.5 1254.3L2024.5 1254.7L2027.5 1255.1L2030.5 1255.5L2033.5 1255.9L2036.5 1256.3L2039.5 1256.7L2042.5 1257.1L2045.5 1257.5L2048.5 1258.0L2051.5 1258.4L2054.5 1258.8L2057.5 1259.3L2060.5 1259.7L2063.5 1260.1L2066.5 1260.6L2069.5 1261.0L2072.5 1261.4L2075.5 1261.9L2078.5 1262.3L2081.5 1262.8L2084.5 1263.2L2087.5 1263.7L2090.5 1264.1L2093.5 1264.6L2096.5 1265.0L2099.5 1265.5L2102.5 1265.9L2105.5 1266.3L2108.5 1266.8L2111.5 1267.2L2114.5 1267.7L2117.5 1268.1L2120.5 1268.6L2123.5 1269.0L2126.5 1269.5L2129.5 1269.9L2132.5 1270.3L2135.5 1270.8L2138.5 1271.2L2141.5 1271.7L2144.5 1272.1L2147.5 1272.5L2150.5 1272.9L2153.5 1273.4L2156.5 1273.8L2159.5 1274.2L2162.5 1274.6L2165.5 1275.0L2168.5 1275.5L2171.5 1275.9L2174.5 1276.3L2177.5 1276.7L2180.5 1277.1L2183.5 1277.5L2186.5 1277.8L2189.5 1278.2L2192.5 1278.6L2195.5 1279.0L2198.5 1279.4L2201.5 1279.7L2204.5 1280.1L2207.5 1280.4L2210.5 1280.8L2213.5 1281.1L2216.5 1281.5L2219.5 1281.8L2222.5 1282.1L2225.5 1282.5L2228.5 1282.8L2231.5 1283.1L2234.5 1283.4L2237.5 1283.7L2240.5 1284.0L2243.5 1284.2L2246.5 1284.5L2249.5 1284.8L2252.5 1285.0" stroke="#00f"/>
<path d="M341.5 358.2L344.5 368.9L347.5 377.2L350.5 383.1L353.5 387.5L356.5 391.2L359.5 394.3L362.5 396.9L365.5 399.1L368.5 401.0L371.5 402.6L374.5 404.0L377.5 405.3L380.5 406.7L383.5 408.0L386.5 409.5L389.5 411.1L392.5 413.1L395.5 415.4L398.5 418.1L401.5 421.3L404.5 425.3L407.5 429.9L410.5 435.1L413.5 440.9L416.5 447.3L419.5 454.2L422.5 461.3L425.5 468.7L428.5 476.1L431.5 483.4L434.5 490.4L437.5 497.0L440.5 503.2L443.5 508.8L446.5 513.7L449.5 517.9L452.5 521.3L455.5 523.9L458.5 525.8L461.5 526.9L464.5 527.3L467.5 527.0L470.5 526.1L473.5 524.5L476.5 522.4L479.5 519.8L482.5 516.7L485.5 513.2L488.5 509.3L491.5 505.0L494.5 500.5L497.5 495.7L500.5 490.8L503.5 485.6L506.5 480.4L509.5 475.1L512.5 469.9L515.5 464.6L518.5 459.5L521.5 454.5L524.5 449.7L527.5 445.1L530.5 440.7L533.5 436.6L536.5 432.7L539.5 429.2L542.5 425.9L545.5 423.0L548.5 420.4L551.5 418.2L554.5 416.4L557.5 414.9L560.5 413.9L563.5 413.4L566.5 413.4L569.5 413.9L572.5 415.0L575.5 416.7L578.5 419.0L581.5 422.0L584.5 425.7L587.5 430.1L590.5 434.9L593.5 440.2L596.5 445.8L599.5 451.7L602.5 457.7L605.5 463.8L608.5 470.1L611.5 476.3L614.5 482.5L617.5 488.7L620.5 494.8L623.5 501.0L626.5 507.1L629.5 513.3L632.5 519.5L635.5 525.6L638.5 531.7L641.5 537.8L644.5 543.7L647.5 549.7L650.5 555.6L653.5 561.6L656.5 567.7L659.5 573.9L662.5 580.4L665.5 587.1L668.5 594.3L671.5 601.9L674.5 610.0L677.5 618.5L680.5 627.3L683.5 636.3L686.5 645.2L689.5 654.0L692.5 662.6L695.5 670.8L698.5 678.7L701.5 686.1L704.5 693.1L707.5 699.5L710.5 705.4L713.5 710.9L716.5 715.8L719.5 720.3L722.5 724.3L725.5 727.8L728.5 730.9L731.5 733.5L734.5 735.7L737.5 737.4L740.5 738.8L743.5 739.7L746.5 740.2L749.5 740.3L752.5 740.1L755.5 739.4L758.5 738.5L761.5 737.1L764.5 735.4L767.5 733.4L770.5 731.1L773.5 728.5L776.5 725.6L779.5 722.4L782.5 719.0L785.5 715.4L788.5 711.5L791.5 707.5L794.5 703.3L797.5 698.9L800.5 694.3L803.5 689.4L806.5 684.4L809.5 679.0L812.5 673.4L815.5 667.4L818.5 661.2L821.5 654.7L824.5 647.8L827.5 640.7L830.5 633.3L833.5 625.7L836.5 618.0L839.5 610.2L842.5 602.3L845.5 594.4L848.5 586.6L851.5 578.8L854.5 571.1L857.5 563.5L860.5 556.0L863.5 548.6L866.5 541.2L869.5 533.8L872.5 526.4L875.5 519.0L878.5 511.6L881.5 504.0L884.5 496.4L887.5 488.6L890.5 480.7L893.5 472.7L896.5 464.5L899.5 456.2L902.5 447.8L905.5 439.3L908.5 430.8L911.5 422.4L914.5 414.1L917.5 405.9L920.5 397.9L923.5 390.2L926.5 382.8L929.5 375.8L932.5 369.1L935.5 362.9L938.5 357.2L941.5 351.9L944.5 347.2L947.5 343.0L950.5 339.4L953.5 336.4L956.5 334.0L959.5 332.1L962.5 330.9L965.5 330.3L968.5 330.3L971.5 330.9L974.5 332.3L977.5 334.2L980.5 336.9L983.5 340.1L986.5 344.1L989.5 348.7L992.5 354.0L995.5 360.0L998.5 366.7L1001.5 374.1L1004.5 382.3L1007.5 391.1L1010.5 400.5L1013.5 410.5L1016.5 420.9L1019.5 431.6L1022.5 442.7L1025.5 454.0L1028.5 465.4L1031.5 477.0L1034.5 488.5L1037.5 500.0L1040.5 511.5L1043.5 522.9L1046.5 534.2L1049.5 545.3L1052.5 556.4L1055.5 567.2L1058.5 577.8L1061.5 588.2L1064.5 598.4L1067.5 608.3L1070.5 618.0L1073.5 627.6L1076.5 637.0L1079.5 646.3L1082.5 655.6L1085.5 664.9L1088.5 674.1L1091.5 683.3L1094.5 692.5L1097.5 701.8L1100.5 711.0L1103.5 720.2L1106.5 729.3L1109.5 738.3L1112.5 747.1L1115.5 755.8L1118.5 764.3L1121.5 772.7L1124.5 780.8L1127.5 788.6L1130.5 796.3L1133.5 803.8L1136.5 811.1L1139.5 818.2L1142.5 825.1L1145.5 831.9L1148.5 838.5L1151.5 845.0L1154.5 851.4L1157.5 857.7L1160.5 863.9L1163.5 870.1L1166.5 876.1L1169.5 882.1L1172.5 888.1L1175.5 894.0L1178.5 899.9L1181.5 905.7L1184.5 911.5L1187.5 917.3L1190.5 923.0L1193.5 928.7L1196.5 934.3L1199.5 939.8L1202.5 945.3L1205.5 950.7L1208.5 956.0L1211.5 961.2L1214.5 966.4L1217.5 971.4L1220.5 976.3L1223.5 981.1L1226.5 985.8L1229.5 990.4L1232.5 994.8L1235.5 999.2L1238.5 1003.4L1241.5 1007.5L1244.5 1011.4L1247.5 1015.2L1250.5 1018.9L1253.5 1022.5L1256.5 1026.0L1259.5 1029.3L1262.5 1032.5L1265.5 1035.6L1268.5 1038.6L1271.5 1041.5L1274.5 1044.2L1277.5 1046.9L1280.5 1049.4L1283.5 1051.9L1286.5 1054.3L1289.5 1056.5L1292.5 1058.7L1295.5 1060.8L1298.5 1062.8L1301.5 1064.7L1304.5 1066.5L1307.5 1068.3L1310.5 1070.0L1313.5 1071.6L1316.5 1073.2L1319.5 1074.8L1322.5 1076.3L1325.5 1077.8L1328.5 1079.3L1331.5 1080.7L1334.5 1082.2L1337.5 1083.6L1340.5 1085.0L1343.5 1086.5L1346.5 1087.9L1349.5 1089.3L1352.5 1090.7L1355.5 1092.2L1358.5 1093.6L1361.5 1095.0L1364.5 1096.5L1367.5 1097.9L1370.5 1099.4L1373.5 1100.9L1376.5 1102.3L1379.5 1103.8L1382.5 1105.3L1385.5 1106.8L1388.5 1108.3L1391.5 1109.8L1394.5 1111.3L1397.5 1112.8L1400.5 1114.3L1403.5 1115.8L1406.5 1117.3L1409.5 1118.8L1412.5 1120.4L1415.5 1121.9L1418.5 1123.4L1421.5 1124.9L1424.5 1126.4L1427.5 1128.0L1430.5 1129.5L1433.5 1131.0L1436.5 1132.6L1439.5 1134.1L1442.5 1135.6L1445.5 1137.2L1448.5 1138.7L1451.5 1140.2L1454.5 1141.7L1457.5 1143.3L1460.5 1144.8L1463.5 1146.3L1466.5 1147.8L1469.5 1149.3L1472.5 1150.8L1475.5 1152.3L1478.5 1153.9L1481.5 1155.4L1484.5 1156.8L1487.5 1158.3L1490.5 1159.8L1493.5 1161.3L1496.5 1162.8L1499.5 1164.2L1502.5 1165.7L1505.5 1167.2L1508.5 1168.6L1511.5 1170.0L1514.5 1171.5L1517.5 1172.9L1520.5 1174.3L1523.5 1175.7L1526.5 1177.1L1529.5 1178.5L1532.5 1179.9L1535.5 1181.3L1538.5 1182.6L1541.5 1184.0L1544.5 1185.3L1547.5 1186.7L1550.5 1188.0L1553.5 1189.3L1556.5 1190.6L1559.5 1191.9L1562.5 1193.1L1565.5 1194.4L1568.5 1195.6L1571.5 1196.9L1574.5 1198.1L1577.5 1199.3L1580.5 1200.5L1583.5 1201.7L1586.5 1202.8L1589.5 1204.0L1592.5 1205.1L1595.5 1206.2L1598.5 1207.3L1601.5 1208.4L1604.5 1209.4L1607.5 1210.5L1610.5 1211.5L1613.5 1212.5L1616.5 1213.5L1619.5 1214.5L1622.5 1215.4L1625.5 1216.3L1628.5 1217.2L1631.5 1218.1L1634.5 1219.0L1637.5 1219.8L1640.5 1220.7L1643.5 1221.5L1646.5 1222.2L1649.5 1223.0L1652.5 1223.7L1655.5 1224.4L1658.5 1225.1L1661.5 1225.7L1664.5 1226.3L1667.5 1226.9L1670.5 1227.4L1673.5 1227.9L1676.5 1228.3L1679.5 1228.7L1682.5 1229.1L1685.5 1229.5L1688.5 1229.8L1691.5 1230.1L1694.5 1230.4L1697.5 1230.7L1700.5 1230.9L1703.5 1231.2L1706.5 1231.4L1709.5 1231.6L1712.5 1231.8L1715.5 1232.0L1718.5 1232.3L1721.5 1232.5L1724.5 1232.7L1727.5 1232.9L1730.5 1233.0L1733.5 1233.2L1736.5 1233.4L1739.5 1233.6L1742.5 1233.7L1745.5 1233.9L1748.5 1234.0L1751.5 1234.2L1754.5 1234.3L1757.5 1234.5L1760.5 1234.6L1763.5 1234.7L1766.5 1234.9L1769.5 1235.0L1772.5 1235.2L1775.5 1235.3L1778.5 1235.4L1781.5 1235.6L1784.5 1235.7L1787.5 1235.9L1790.5 1236.0L1793.5 1236.2L1796.5 1236.4L1799.5 1236.5L1802.5 1236.7L1805.5 1236.8L1808.5 1237.0L1811.5 1237.2L1814.5 1237.4L1817.5 1237.6L1820.5 1237.7L1823.5 1237.9L1826.5 1238.1L1829.5 1238.3L1832.5 1238.5L1835.5 1238.7L1838.5 1238.9L1841.5 1239.1L1844.5 1239.3L1847.5 1239.5L1850.5 1239.7L1853.5 1240.0L1856.5 1240.2L1859.5 1240.4L1862.5 1240.7L1865.5 1240.9L1868.5 1241.1L1871.5 1241.4L1874.5 1241.6L1877.5 1241.9L1880.5 1242.1L1883.5 1242.4L1886.5 1242.6L1889.5 1242.9L1892.5 1243.2L1895.5 1243.4L1898.5 1243.7L1901.5 1244.0L1904.5 1244.3L1907.5 1244.6L1910.5 1244.9L1913.5 1245.2L1916.5 1245.5L1919.5 1245.8L1922.5 1246.1L1925.5 1246.4L1928.5 1246.7L1931.5 1247.0L1934.5 1247.3L1937.5 1247.7L1940.5 1248.0L1943.5 1248.3L1946.5 1248.7L1949.5 1249.0L1952.5 1249.4L1955.5 1249.7L1958.5 1250.1L1961.5 1250.4L1964.5 1250.8L1967.5 1251.2L1970.5 1251.5L1973.5 1251.9L1976.5 1252.3L1979.5 1252.7L1982.5 1253.0L1985.5 1253.4L1988.5 1253.8L1991.5 1254.2L1994.5 1254.6L1997.5 1255.0L2000.5 1255.4L2003.5 1255.8L2006.5 1256.3L2009.5 1256.7L2012.5 1257.1L2015.5 1257.5L2018.5 1257.9L2021.5 1258.4L2024.5 1258.8L2027.5 1259.2L2030.5 1259.7L2033.5 1260.1L2036.5 1260.6L2039.5 1261.0L2042.5 1261.5L2045.5 1261.9L2048.5 1262.4L2051.5 1262.8L2054.5 1263.3L2057.5 1263.7L2060.5 1264.2L2063.5 1264.7L2066.5 1265.1L2069.5 1265.6L2072.5 1266.0L2075.5 1266.5L2078.5 1266.9L2081.5 1267.4L2084.5 1267.9L2087.5 1268.3L2090.5 1268.8L2093.5 1269.2L2096.5 1269.7L2099.5 1270.1L2102.5 1270.6L2105.5 1271.0L2108.5 1271.5L2111.5 1271.9L2114.5 1272.4L2117.5 1272.8L2120.5 1273.3L2123.5 1273.7L2126.5 1274.1L2129.5 1274.6L2132.5 1275.0L2135.5 1275.4L2138.5 1275.8L2141.5 1276.2L2144.5 1276.6L2147.5 1277.1L2150.5 1277.5L2153.5 1277.9L2156.5 1278.2L2159.5 1278.6L2162.5 1279.0L2165.5 1279.4L2168.5 1279.8L2171.5 1280.1L2174.5 1280.5L2177.5 1280.8L2180.5 1281.2L2183.5 1281.5L2186.5 1281.8L2189.5 1282.2L2192.5 1282.5L2195.5 1282.8L2198.5 1283.1L2201.5 1283.4L2204.5 1283.7L2207.5 1284.0L2210.5 1284.2L2213.5 1284.5L2216.5 1284.8L2219.5 1285.0L2222.5 1285.3L2225.5 1285.5L2228.5 1285.7L2231.5 1285.9L2234.5 1286.1L2237.5 1286.3L2240.5 1286.5L2243.5 1286.7L2246.5 1286.8L2249.5 1287.0L2252.5 1287.1" stroke="#f0f"/>
<path d="M341.5 332.8L344.5 339.9L347.5 346.4L350.5 352.8L353.5 358.7L356.5 364.0L359.5 368.8L362.5 373.0L365.5 376.7L368.5 380.1L371.5 383.2L374.5 386.0L377.5 388.8L380.5 391.5L383.5 394.2L386.5 397.1L389.5 400.1L392.5 403.4L395.5 407.0L398.5 411.2L401.5 416.0L404.5 421.5L407.5 427.7L410.5 434.8L413.5 442.5L416.5 450.9L419.5 459.8L422.5 469.1L425.5 478.5L428.5 487.8L431.5 497.0L434.5 505.7L437.5 513.9L440.5 521.5L443.5 528.3L446.5 534.3L449.5 539.3L452.5 543.3L455.5 546.4L458.5 548.6L461.5 549.9L464.5 550.4L467.5 550.2L470.5 549.2L473.5 547.5L476.5 545.3L479.5 542.5L482.5 539.2L485.5 535.5L488.5 531.4L491.5 527.0L494.5 522.3L497.5 517.3L500.5 512.2L503.5 506.9L506.5 501.5L509.5 496.1L512.5 490.6L515.5 485.2L518.5 479.8L521.5 474.5L524.5 469.5L527.5 464.6L530.5 460.0L533.5 455.6L536.5 451.4L539.5 447.6L542.5 444.2L545.5 441.1L548.5 438.3L551.5 436.0L554.5 434.2L557.5 432.8L560.5 431.9L563.5 431.6L566.5 431.7L569.5 432.5L572.5 433.8L575.5 435.7L578.5 438.2L581.5 441.3L584.5 445.1L587.5 449.4L590.5 454.3L593.5 459.5L596.5 465.0L599.5 470.8L602.5 476.8L605.5 482.8L608.5 488.9L611.5 494.9L614.5 500.8L617.5 506.6L620.5 512.3L623.5 517.8L626.5 523.2L629.5 528.6L632.5 533.8L635.5 539.0L638.5 544.0L641.5 549.0L644.5 554.0L647.5 558.9L650.5 563.9L653.5 568.9L656.5 574.0L659.5 579.3L662.5 584.8L665.5 590.6L668.5 596.6L671.5 603.0L674.5 609.7L677.5 616.7L680.5 624.0L683.5 631.3L686.5 638.8L689.5 646.2L692.5 653.5L695.5 660.7L698.5 667.6L701.5 674.1L704.5 680.3L707.5 686.1L710.5 691.4L713.5 696.3L716.5 700.8L719.5 704.9L722.5 708.5L725.5 711.7L728.5 714.4L731.5 716.7L734.5 718.5L737.5 719.8L740.5 720.7L743.5 721.2L746.5 721.2L749.5 720.9L752.5 720.1L755.5 718.9L758.5 717.3L761.5 715.4L764.5 713.1L767.5 710.5L770.5 707.5L773.5 704.3L776.5 700.9L779.5 697.2L782.5 693.2L785.5 689.1L788.5 684.7L791.5 680.2L794.5 675.5L797.5 670.6L800.5 665.5L803.5 660.1L806.5 654.5L809.5 648.7L812.5 642.5L815.5 636.1L818.5 629.3L821.5 622.2L824.5 614.8L827.5 607.1L830.5 599.2L833.5 591.0L836.5 582.7L839.5 574.3L842.5 565.9L845.5 557.5L848.5 549.1L851.5 540.8L854.5 532.6L857.5 524.6L860.5 516.6L863.5 508.8L866.5 500.9L869.5 493.1L872.5 485.3L875.5 477.5L878.5 469.6L881.5 461.7L884.5 453.7L887.5 445.6L890.5 437.5L893.5 429.3L896.5 421.1L899.5 412.9L902.5 404.7L905.5 396.5L908.5 388.5L911.5 380.7L914.5 373.1L917.5 365.8L920.5 358.8L923.5 352.1L926.5 345.8L929.5 339.9L932.5 334.3L935.5 329.2L938.5 324.5L941.5 320.3L944.5 316.6L947.5 313.5L950.5 310.8L953.5 308.7L956.5 307.2L959.5 306.3L962.5 306.0L965.5 306.3L968.5 307.3L971.5 309.0L974.5 311.4L977.5 314.6L980.5 318.5L983.5 323.3L986.5 328.8L989.5 335.2L992.5 342.5L995.5 350.6L998.5 359.6L1001.5 369.5L1004.5 380.3L1007.5 391.9L1010.5 404.3L1013.5 417.2L1016.5 430.7L1019.5 444.5L1022.5 458.7L1025.5 473.0L1028.5 487.4L1031.5 501.9L1034.5 516.2L1037.5 530.3L1040.5 544.2L1043.5 557.9L1046.5 571.3L1049.5 584.3L1052.5 597.0L1055.5 609.2L1058.5 621.1L1061.5 632.5L1064.5 643.4L1067.5 653.8L1070.5 663.9L1073.5 673.6L1076.5 682.9L1079.5 692.0L1082.5 700.9L1085.5 709.6L1088.5 718.1L1091.5 726.6L1094.5 734.9L1097.5 743.2L1100.5 751.4L1103.5 759.5L1106.5 767.5L1109.5 775.4L1112.5 783.2L1115.5 790.8L1118.5 798.3L1121.5 805.7L1124.5 812.8L1127.5 819.8L1130.5 826.7L1133.5 833.4L1136.5 839.9L1139.5 846.4L1142.5 852.7L1145.5 859.0L1148.5 865.1L1151.5 871.2L1154.5 877.1L1157.5 883.0L1160.5 888.8L1163.5 894.6L1166.5 900.3L1169.5 905.9L1172.5 911.5L1175.5 917.0L1178.5 922.5L1181.5 928.0L1184.5 933.4L1187.5 938.8L1190.5 944.2L1193.5 949.4L1196.5 954.7L1199.5 959.8L1202.5 964.9L1205.5 969.8L1208.5 974.7L1211.5 979.5L1214.5 984.2L1217.5 988.8L1220.5 993.2L1223.5 997.6L1226.5 1001.8L1229.5 1006.0L1232.5 1010.0L1235.5 1013.9L1238.5 1017.6L1241.5 1021.2L1244.5 1024.7L1247.5 1028.1L1250.5 1031.4L1253.5 1034.5L1256.5 1037.5L1259.5 1040.4L1262.5 1043.3L1265.5 1046.0L1268.5 1048.6L1271.5 1051.1L1274.5 1053.6L1277.5 1055.9L1280.5 1058.2L1283.5 1060.3L1286.5 1062.4L1289.5 1064.5L1292.5 1066.4L1295.5 1068.3L1298.5 1070.1L1301.5 1071.8L1304.5 1073.5L1307.5 1075.1L1310.5 1076.6L1313.5 1078.1L1316.5 1079.6L1319.5 1081.0L1322.5 1082.3L1325.5 1083.7L1328.5 1084.9L1331.5 1086.2L1334.5 1087.4L1337.5 1088.6L1340.5 1089.8L1343.5 1090.9L1346.5 1092.0L1349.5 1093.1L1352.5 1094.2L1355.5 1095.3L1358.5 1096.4L1361.5 1097.5L1364.5 1098.6L1367.5 1099.7L1370.5 1100.9L1373.5 1102.0L1376.5 1103.1L1379.5 1104.2L1382.5 1105.4L1385.5 1106.5L1388.5 1107.7L1391.5 1108.9L1394.5 1110.0L1397.5 1111.2L1400.5 1112.4L1403.5 1113.6L1406.5 1114.9L1409.5 1116.1L1412.5 1117.4L1415.5 1118.6L1418.5 1119.9L1421.5 1121.2L1424.5 1122.5L1427.5 1123.8L1430.5 1125.1L1433.5 1126.4L1436.5 1127.7L1439.5 1129.0L1442.5 1130.4L1445.5 1131.7L1448.5 1133.1L1451.5 1134.5L1454.5 1135.8L1457.5 1137.2L1460.5 1138.6L1463.5 1139.9L1466.5 1141.3L1469.5 1142.7L1472.5 1144.1L1475.5 1145.5L1478.5 1146.9L1481.5 1148.3L1484.5 1149.7L1487.5 1151.1L1490.5 1152.5L1493.5 1153.9L1496.5 1155.2L1499.5 1156.6L1502.5 1158.0L1505.5 1159.4L1508.5 1160.8L1511.5 1162.2L1514.5 1163.6L1517.5 1165.0L1520.5 1166.4L1523.5 1167.7L1526.5 1169.1L1529.5 1170.5L1532.5 1171.9L1535.5 1173.2L1538.5 1174.6L1541.5 1175.9L1544.5 1177.3L1547.5 1178.6L1550.5 1179.9L1553.5 1181.3L1556.5 1182.6L1559.5 1183.9L1562.5 1185.2L1565.5 1186.5L1568.5 1187.7L1571.5 1189.0L1574.5 1190.3L1577.5 1191.5L1580.5 1192.8L1583.5 1194.0L1586.5 1195.2L1589.5 1196.4L1592.5 1197.6L1595.5 1198.8L1598.5 1199.9L1601.5 1201.1L1604.5 1202.2L1607.5 1203.3L1610.5 1204.5L1613.5 1205.5L1616.5 1206.6L1619.5 1207.7L1622.5 1208.7L1625.5 1209.7L1628.5 1210.8L1631.5 1211.7L1634.5 1212.7L1637.5 1213.7L1640.5 1214.6L1643.5 1215.5L1646.5 1216.4L1649.5 1217.3L1652.5 1218.1L1655.5 1219.0L1658.5 1219.8L1661.5 1220.5L1664.5 1221.3L1667.5 1222.0L1670.5 1222.7L1673.5 1223.4L1676.5 1224.1L1679.5 1224.7L1682.5 1225.3L1685.5 1225.9L1688.5 1226.5L1691.5 1227.0L1694.5 1227.5L1697.5 1228.0L1700.5 1228.5L1703.5 1228.9L1706.5 1229.4L1709.5 1229.8L1712.5 1230.2L1715.5 1230.5L1718.5 1230.9L1721.5 1231.2L1724.5 1231.5L1727.5 1231.8L1730.5 1232.1L1733.5 1232.4L1736.5 1232.6L1739.5 1232.9L1742.5 1233.1L1745.5 1233.3L1748.5 1233.5L1751.5 1233.7L1754.5 1233.9L1757.5 1234.1L1760.5 1234.3L1763.5 1234.5L1766.5 1234.6L1769.5 1234.8L1772.5 1234.9L1775.5 1235.1L1778.5 1235.2L1781.5 1235.4L1784.5 1235.6L1787.5 1235.7L1790.5 1235.9L1793.5 1236.0L1796.5 1236.2L1799.5 1236.4L1802.5 1236.5L1805.5 1236.7L1808.5 1236.9L1811.5 1237.0L1814.5 1237.2L1817.5 1237.4L1820.5 1237.6L1823.5 1237.8L1826.5 1238.0L1829.5 1238.2L1832.5 1238.4L1835.5 1238.6L1838.5 1238.8L1841.5 1239.0L1844.5 1239.3L1847.5 1239.5L1850.5 1239.7L1853.5 1240.0L1856.5 1240.2L1859.5 1240.5L1862.5 1240.7L1865.5 1241.0L1868.5 1241.3L1871.5 1241.6L1874.5 1241.8L1877.5 1242.1L1880.5 1242.4L1883.5 1242.7L1886.5 1243.0L1889.5 1243.3L1892.5 1243.6L1895.5 1244.0L1898.5 1244.3L1901.5 1244.6L1904.5 1244.9L1907.5 1245.3L1910.5 1245.6L1913.5 1246.0L1916.5 1246.3L1919.5 1246.7L1922.5 1247.1L1925.5 1247.4L1928.5 1247.8L1931.5 1248.2L1934.5 1248.6L1937.5 1249.0L1940.5 1249.4L1943.5 1249.8L1946.5 1250.2L1949.5 1250.6L1952.5 1251.0L1955.5 1251.4L1958.5 1251.8L1961.5 1252.2L1964.5 1252.6L1967.5 1253.1L1970.5 1253.5L1973.5 1253.9L1976.5 1254.3L1979.5 1254.8L1982.5 1255.2L1985.5 1255.7L1988.5 1256.1L1991.5 1256.5L1994.5 1257.0L1997.5 1257.4L2000.5 1257.9L2003.5 1258.3L2006.5 1258.8L2009.5 1259.2L2012.5 1259.7L2015.5 1260.2L2018.5 1260.6L2021.5 1261.1L2024.5 1261.5L2027.5 1262.0L2030.5 1262.5L2033.5 1262.9L2036.5 1263.4L2039.5 1263.8L2042.5 1264.3L2045.5 1264.8L2048.5 1265.2L2051.5 1265.7L2054.5 1266.1L2057.5 1266.6L2060.5 1267.1L2063.5 1267.5L2066.5 1268.0L2069.5 1268.4L2072.5 1268.9L2075.5 1269.3L2078.5 1269.8L2081.5 1270.2L2084.5 1270.7L2087.5 1271.1L2090.5 1271.6L2093.5 1272.0L2096.5 1272.5L2099.5 1272.9L2102.5 1273.3L2105.5 1273.8L2108.5 1274.2L2111.5 1274.6L2114.5 1275.0L2117.5 1275.4L2120.5 1275.9L2123.5 1276.3L2126.5 1276.7L2129.5 1277.1L2132.5 1277.5L2135.5 1277.9L2138.5 1278.3L2141.5 1278.7L2144.5 1279.0L2147.5 1279.4L2150.5 1279.8L2153.5 1280.2L2156.5 1280.5L2159.5 1280.9L2162.5 1281.2L2165.5 1281.6L2168.5 1281.9L2171.5 1282.3L2174.5 1282.6L2177.5 1282.9L2180.5 1283.2L2183.5 1283.6L2186.5 1283.9L2189.5 1284.2L2192.5 1284.5L2195.5 1284.8L2198.5 1285.0L2201.5 1285.3L2204.5 1285.6L2207.5 1285.8L2210.5 1286.1L2213.5 1286.3L2216.5 1286.6L2219.5 1286.8L2222.5 1287.0L2225.5 1287.2L2228.5 1287.4L2231.5 1287.6L2234.5 1287.8L2237.5 1288.0L2240.5 1288.1L2243.5 1288.3L2246.5 1288.4L2249.5 1288.5L2252.5 1288.6" stroke="#008000"/>
</g>
<g stroke="#000" fill="none">
<path d="M312.0 60.6 H2257.4" stroke-width="5.6"/>
<path d="M342.5 57.8 V1322.9" stroke-width="5.6"/>
<path d="M312.0 1308.9 H2257.4" stroke-width="5.4"/>
<path d="M2255.0 60.6 V1308.9" stroke-width="4.8"/>
<path d="M312.0 372.7 H341.5" stroke-width="4.6"/>
<path d="M312.0 684.8 H341.5" stroke-width="4.6"/>
<path d="M312.0 996.8 H341.5" stroke-width="4.6"/>
<path d="M643.6 1308.9 V1335.9" stroke-width="4.6"/>
<path d="M1247.9 1308.9 V1335.9" stroke-width="4.6"/>
<path d="M1852.2 1308.9 V1335.9" stroke-width="4.6"/>
<path d="M945.8 1308.9 V1322.9" stroke-width="4.6"/>
<path d="M1550.0 1308.9 V1322.9" stroke-width="4.6"/>
<path d="M2154.3 1308.9 V1322.9" stroke-width="4.6"/>
</g>
<text transform="translate(296 86.6) scale(1 1.04)" font-size="85" text-anchor="end">2.0</text>
<text transform="translate(296 398.7) scale(1 1.04)" font-size="85" text-anchor="end">1.5</text>
<text transform="translate(296 710.8) scale(1 1.04)" font-size="85" text-anchor="end">1.0</text>
<text transform="translate(296 1022.8) scale(1 1.04)" font-size="85" text-anchor="end">0.5</text>
<text transform="translate(296 1334.9) scale(1 1.04)" font-size="85" text-anchor="end">0.0</text>
<text transform="translate(643.6 1420) scale(1 1.04)" font-size="85" text-anchor="middle">240</text>
<text transform="translate(1247.9 1420) scale(1 1.04)" font-size="85" text-anchor="middle">300</text>
<text transform="translate(1852.2 1420) scale(1 1.04)" font-size="85" text-anchor="middle">360</text>
<text transform="translate(1154 1570) scale(1.22 1)" class="lam" font-size="92">λ</text>
<text x="1228" y="1570" font-size="93.5">(nm)</text>
<text transform="translate(85 677) rotate(-90) scale(0.935 1)" font-size="98" class="it" text-anchor="middle">A</text>
<text x="2171" y="195.5" font-size="121" text-anchor="middle">A</text>
<text x="1196" y="588.3" font-size="73">pH</text>
<path d="M570.0 658.0 V508.0" stroke="#000" stroke-width="4.8" fill="none"/>
<path d="M570.0 448.0 L555.0 510.0 L585.0 510.0 Z" fill="#000"/>
<path d="M843.0 276.0 V425.5" stroke="#000" stroke-width="4.8" fill="none"/>
<path d="M843.0 481.5 L828.0 423.5 L858.0 423.5 Z" fill="#000"/>
<path d="M1171.5 639.5 V491.5" stroke="#000" stroke-width="4.8" fill="none"/>
<path d="M1171.5 431.5 L1156.5 493.5 L1186.5 493.5 Z" fill="#000"/>
</g>
<g id="panelB">
<g fill="#f00"><circle cx="466.5" cy="2450.8" r="21.7"/><circle cx="554.3" cy="2461.1" r="21.7"/><circle cx="630.0" cy="2467.2" r="21.7"/><circle cx="703.2" cy="2478.1" r="21.7"/><circle cx="760.1" cy="2490.2" r="21.7"/><circle cx="823.0" cy="2499.3" r="21.7"/><circle cx="875.7" cy="2514.4" r="21.7"/><circle cx="938.7" cy="2532.6" r="21.7"/><circle cx="997.4" cy="2549.5" r="21.7"/><circle cx="1050.7" cy="2567.8" r="21.7"/><circle cx="1097.3" cy="2589.5" r="21.7"/><circle cx="1155.4" cy="2610.4" r="21.7"/><circle cx="1217.1" cy="2636.0" r="21.7"/><circle cx="1292.2" cy="2672.4" r="21.7"/><circle cx="1376.9" cy="2711.1" r="21.7"/><circle cx="1472.5" cy="2753.7" r="21.7"/><circle cx="1531.2" cy="2775.4" r="21.7"/><circle cx="1587.5" cy="2796.4" r="21.7"/><circle cx="1654.1" cy="2818.0" r="21.7"/><circle cx="1729.8" cy="2839.0" r="21.7"/><circle cx="1802.4" cy="2856.8" r="21.7"/><circle cx="1867.2" cy="2870.7" r="21.7"/><circle cx="1926.5" cy="2880.0" r="21.7"/><circle cx="1979.2" cy="2886.2" r="21.7"/><circle cx="2025.8" cy="2891.7" r="21.7"/><circle cx="2077.8" cy="2897.1" r="21.7"/><circle cx="2127.5" cy="2901.0" r="21.7"/><circle cx="2227.3" cy="2905.6" r="21.7"/></g>
<g fill="#00f"><circle cx="466.5" cy="2273.5" r="21.7"/><circle cx="554.3" cy="2276.5" r="21.7"/><circle cx="630.0" cy="2282.6" r="21.7"/><circle cx="703.2" cy="2288.6" r="21.7"/><circle cx="760.1" cy="2294.7" r="21.7"/><circle cx="823.0" cy="2299.5" r="21.7"/><circle cx="875.7" cy="2308.6" r="21.7"/><circle cx="938.7" cy="2317.7" r="21.7"/><circle cx="997.4" cy="2327.4" r="21.7"/><circle cx="1050.7" cy="2335.8" r="21.7"/><circle cx="1097.3" cy="2344.9" r="21.7"/><circle cx="1155.4" cy="2357.0" r="21.7"/><circle cx="1217.1" cy="2370.3" r="21.7"/><circle cx="1292.2" cy="2389.1" r="21.7"/><circle cx="1376.9" cy="2408.7" r="21.7"/><circle cx="1472.5" cy="2428.1" r="21.7"/><circle cx="1531.2" cy="2437.8" r="21.7"/><circle cx="1587.5" cy="2448.1" r="21.7"/><circle cx="1654.1" cy="2459.6" r="21.7"/><circle cx="1729.8" cy="2469.2" r="21.7"/><circle cx="1802.4" cy="2476.5" r="21.7"/><circle cx="1867.2" cy="2482.6" r="21.7"/><circle cx="1926.5" cy="2487.4" r="21.7"/><circle cx="1979.2" cy="2491.6" r="21.7"/><circle cx="2025.8" cy="2493.5" r="21.7"/><circle cx="2077.8" cy="2497.7" r="21.7"/><circle cx="2127.5" cy="2500.7" r="21.7"/><circle cx="2227.3" cy="2502.5" r="21.7"/></g>
<g fill="#800000"><circle cx="466.5" cy="2517.4" r="21.7"/><circle cx="554.3" cy="2511.4" r="21.7"/><circle cx="630.0" cy="2503.5" r="21.7"/><circle cx="703.2" cy="2495.0" r="21.7"/><circle cx="760.1" cy="2487.2" r="21.7"/><circle cx="823.0" cy="2479.3" r="21.7"/><circle cx="875.7" cy="2470.8" r="21.7"/><circle cx="938.7" cy="2458.7" r="21.7"/><circle cx="997.4" cy="2444.8" r="21.7"/><circle cx="1050.7" cy="2433.9" r="21.7"/><circle cx="1097.3" cy="2420.6" r="21.7"/><circle cx="1155.4" cy="2405.4" r="21.7"/><circle cx="1217.1" cy="2387.3" r="21.7"/><circle cx="1292.2" cy="2366.1" r="21.7"/><circle cx="1376.9" cy="2337.9" r="21.7"/><circle cx="1472.5" cy="2311.9" r="21.7"/><circle cx="1531.2" cy="2296.7" r="21.7"/><circle cx="1587.5" cy="2282.8" r="21.7"/><circle cx="1654.1" cy="2267.7" r="21.7"/><circle cx="1729.8" cy="2255.6" r="21.7"/><circle cx="1802.4" cy="2245.3" r="21.7"/><circle cx="1867.2" cy="2238.0" r="21.7"/><circle cx="1926.5" cy="2232.0" r="21.7"/><circle cx="1979.2" cy="2227.7" r="21.7"/><circle cx="2025.8" cy="2225.9" r="21.7"/><circle cx="2077.8" cy="2225.3" r="21.7"/><circle cx="2127.5" cy="2224.1" r="21.7"/><circle cx="2227.3" cy="2216.8" r="21.7"/></g>
<g fill="#008000"><circle cx="466.5" cy="1972.6" r="21.7"/><circle cx="554.3" cy="1992.0" r="21.7"/><circle cx="630.0" cy="2009.0" r="21.7"/><circle cx="703.2" cy="2027.1" r="21.7"/><circle cx="760.1" cy="2038.0" r="21.7"/><circle cx="823.0" cy="2047.1" r="21.7"/><circle cx="875.7" cy="2079.8" r="21.7"/><circle cx="938.7" cy="2107.0" r="21.7"/><circle cx="997.4" cy="2145.2" r="21.7"/><circle cx="1050.7" cy="2166.3" r="21.7"/><circle cx="1097.3" cy="2194.8" r="21.7"/><circle cx="1155.4" cy="2231.7" r="21.7"/><circle cx="1217.1" cy="2276.5" r="21.7"/><circle cx="1292.2" cy="2332.8" r="21.7"/><circle cx="1376.9" cy="2396.6" r="21.7"/><circle cx="1472.5" cy="2465.0" r="21.7"/><circle cx="1531.2" cy="2497.7" r="21.7"/><circle cx="1587.5" cy="2525.5" r="21.7"/><circle cx="1654.1" cy="2569.1" r="21.7"/><circle cx="1729.8" cy="2593.3" r="21.7"/><circle cx="1802.4" cy="2626.6" r="21.7"/><circle cx="1867.2" cy="2644.8" r="21.7"/><circle cx="1926.5" cy="2664.2" r="21.7"/><circle cx="1979.2" cy="2672.0" r="21.7"/><circle cx="2025.8" cy="2678.1" r="21.7"/><circle cx="2077.8" cy="2694.0" r="21.7"/><circle cx="2127.5" cy="2704.8" r="21.7"/><circle cx="2227.3" cy="2709.5" r="21.7"/></g>
<g fill="none" stroke="#000" stroke-width="3.6">
<path d="M354.6 2447.9L360.6 2448.2L366.6 2448.5L372.6 2448.7L378.6 2449.0L384.6 2449.3L390.6 2449.6L396.6 2449.9L402.6 2450.2L408.6 2450.5L414.6 2450.8L420.6 2451.1L426.6 2451.5L432.6 2451.8L438.6 2452.2L444.6 2452.5L450.6 2452.9L456.6 2453.2L462.6 2453.6L468.6 2454.0L474.6 2454.4L480.6 2454.8L486.6 2455.2L492.6 2455.7L498.6 2456.1L504.6 2456.5L510.6 2457.0L516.6 2457.4L522.6 2457.9L528.6 2458.4L534.6 2458.9L540.6 2459.4L546.6 2459.9L552.6 2460.4L558.6 2461.0L564.6 2461.5L570.6 2462.1L576.6 2462.7L582.6 2463.3L588.6 2463.9L594.7 2464.5L600.7 2465.1L606.7 2465.7L612.7 2466.4L618.7 2467.1L624.7 2467.7L630.7 2468.4L636.7 2469.1L642.7 2469.9L648.7 2470.6L654.7 2471.4L660.7 2472.1L666.7 2472.9L672.7 2473.7L678.7 2474.5L684.7 2475.4L690.7 2476.2L696.7 2477.1L702.7 2478.0L708.7 2478.9L714.7 2479.8L720.7 2480.8L726.7 2481.7L732.7 2482.7L738.7 2483.7L744.7 2484.7L750.7 2485.7L756.7 2486.8L762.7 2487.9L768.7 2489.0L774.7 2490.1L780.7 2491.2L786.7 2492.4L792.7 2493.6L798.7 2494.8L804.7 2496.0L810.7 2497.2L816.7 2498.5L822.7 2499.8L828.7 2501.1L834.7 2502.5L840.7 2503.8L846.7 2505.2L852.7 2506.6L858.7 2508.1L864.7 2509.5L870.7 2511.0L876.7 2512.5L882.7 2514.0L888.7 2515.6L894.7 2517.2L900.7 2518.8L906.7 2520.4L912.7 2522.1L918.7 2523.8L924.7 2525.5L930.7 2527.2L936.7 2529.0L942.7 2530.7L948.7 2532.6L954.7 2534.4L960.7 2536.3L966.7 2538.2L972.7 2540.1L978.7 2542.0L984.7 2544.0L990.7 2546.0L996.7 2548.0L1002.7 2550.0L1008.7 2552.1L1014.7 2554.2L1020.7 2556.3L1026.7 2558.5L1032.7 2560.7L1038.7 2562.9L1044.7 2565.1L1050.7 2567.3L1056.7 2569.6L1062.7 2571.9L1068.7 2574.2L1074.8 2576.6L1080.8 2578.9L1086.8 2581.3L1092.8 2583.8L1098.8 2586.2L1104.8 2588.6L1110.8 2591.1L1116.8 2593.6L1122.8 2596.1L1128.8 2598.7L1134.8 2601.2L1140.8 2603.8L1146.8 2606.4L1152.8 2609.0L1158.8 2611.7L1164.8 2614.3L1170.8 2617.0L1176.8 2619.7L1182.8 2622.4L1188.8 2625.1L1194.8 2627.8L1200.8 2630.5L1206.8 2633.3L1212.8 2636.0L1218.8 2638.8L1224.8 2641.6L1230.8 2644.4L1236.8 2647.2L1242.8 2650.0L1248.8 2652.8L1254.8 2655.6L1260.8 2658.4L1266.8 2661.2L1272.8 2664.1L1278.8 2666.9L1284.8 2669.7L1290.8 2672.6L1296.8 2675.4L1302.8 2678.3L1308.8 2681.1L1314.8 2683.9L1320.8 2686.8L1326.8 2689.6L1332.8 2692.4L1338.8 2695.2L1344.8 2698.0L1350.8 2700.8L1356.8 2703.6L1362.8 2706.4L1368.8 2709.2L1374.8 2712.0L1380.8 2714.7L1386.8 2717.5L1392.8 2720.2L1398.8 2723.0L1404.8 2725.7L1410.8 2728.4L1416.8 2731.0L1422.8 2733.7L1428.8 2736.4L1434.8 2739.0L1440.8 2741.6L1446.8 2744.2L1452.8 2746.8L1458.8 2749.4L1464.8 2751.9L1470.8 2754.4L1476.8 2756.9L1482.8 2759.4L1488.8 2761.9L1494.8 2764.3L1500.8 2766.7L1506.8 2769.1L1512.8 2771.5L1518.8 2773.8L1524.8 2776.2L1530.8 2778.5L1536.8 2780.7L1542.8 2783.0L1548.8 2785.2L1554.9 2787.4L1560.9 2789.6L1566.9 2791.8L1572.9 2793.9L1578.9 2796.0L1584.9 2798.1L1590.9 2800.1L1596.9 2802.1L1602.9 2804.1L1608.9 2806.1L1614.9 2808.1L1620.9 2810.0L1626.9 2811.9L1632.9 2813.7L1638.9 2815.6L1644.9 2817.4L1650.9 2819.2L1656.9 2820.9L1662.9 2822.7L1668.9 2824.4L1674.9 2826.1L1680.9 2827.7L1686.9 2829.4L1692.9 2831.0L1698.9 2832.6L1704.9 2834.1L1710.9 2835.7L1716.9 2837.2L1722.9 2838.7L1728.9 2840.1L1734.9 2841.6L1740.9 2843.0L1746.9 2844.4L1752.9 2845.7L1758.9 2847.1L1764.9 2848.4L1770.9 2849.7L1776.9 2851.0L1782.9 2852.2L1788.9 2853.4L1794.9 2854.6L1800.9 2855.8L1806.9 2857.0L1812.9 2858.1L1818.9 2859.2L1824.9 2860.3L1830.9 2861.4L1836.9 2862.5L1842.9 2863.5L1848.9 2864.5L1854.9 2865.5L1860.9 2866.5L1866.9 2867.5L1872.9 2868.4L1878.9 2869.4L1884.9 2870.3L1890.9 2871.1L1896.9 2872.0L1902.9 2872.9L1908.9 2873.7L1914.9 2874.5L1920.9 2875.3L1926.9 2876.1L1932.9 2876.9L1938.9 2877.7L1944.9 2878.4L1950.9 2879.1L1956.9 2879.8L1962.9 2880.5L1968.9 2881.2L1974.9 2881.9L1980.9 2882.5L1986.9 2883.2L1992.9 2883.8L1998.9 2884.4L2004.9 2885.0L2010.9 2885.6L2016.9 2886.2L2022.9 2886.7L2028.9 2887.3L2035.0 2887.8L2041.0 2888.4L2047.0 2888.9L2053.0 2889.4L2059.0 2889.9L2065.0 2890.4L2071.0 2890.8L2077.0 2891.3L2083.0 2891.8L2089.0 2892.2L2095.0 2892.6L2101.0 2893.1L2107.0 2893.5L2113.0 2893.9L2119.0 2894.3L2125.0 2894.7L2131.0 2895.1L2137.0 2895.4L2143.0 2895.8L2149.0 2896.2L2155.0 2896.5L2161.0 2896.8L2167.0 2897.2L2173.0 2897.5L2179.0 2897.8L2185.0 2898.1L2191.0 2898.4L2197.0 2898.7L2203.0 2899.0L2209.0 2899.3L2215.0 2899.6L2221.0 2899.9L2227.0 2900.1L2233.0 2900.4L2239.0 2900.6L2245.0 2900.9L2251.0 2901.1L2257.0 2901.4L2263.0 2901.6L2269.0 2901.8"/>
<path d="M354.6 2273.3L360.6 2273.4L366.6 2273.6L372.6 2273.7L378.6 2273.9L384.6 2274.0L390.6 2274.1L396.6 2274.3L402.6 2274.5L408.6 2274.6L414.6 2274.8L420.6 2275.0L426.6 2275.1L432.6 2275.3L438.6 2275.5L444.6 2275.7L450.6 2275.9L456.6 2276.0L462.6 2276.2L468.6 2276.4L474.6 2276.6L480.6 2276.9L486.6 2277.1L492.6 2277.3L498.6 2277.5L504.6 2277.7L510.6 2278.0L516.6 2278.2L522.6 2278.5L528.6 2278.7L534.6 2279.0L540.6 2279.2L546.6 2279.5L552.6 2279.8L558.6 2280.1L564.6 2280.3L570.6 2280.6L576.6 2280.9L582.6 2281.2L588.6 2281.5L594.7 2281.9L600.7 2282.2L606.7 2282.5L612.7 2282.9L618.7 2283.2L624.7 2283.6L630.7 2283.9L636.7 2284.3L642.7 2284.7L648.7 2285.0L654.7 2285.4L660.7 2285.8L666.7 2286.2L672.7 2286.6L678.7 2287.1L684.7 2287.5L690.7 2287.9L696.7 2288.4L702.7 2288.8L708.7 2289.3L714.7 2289.8L720.7 2290.3L726.7 2290.8L732.7 2291.3L738.7 2291.8L744.7 2292.3L750.7 2292.9L756.7 2293.4L762.7 2294.0L768.7 2294.5L774.7 2295.1L780.7 2295.7L786.7 2296.3L792.7 2296.9L798.7 2297.5L804.7 2298.1L810.7 2298.8L816.7 2299.4L822.7 2300.1L828.7 2300.8L834.7 2301.5L840.7 2302.2L846.7 2302.9L852.7 2303.6L858.7 2304.3L864.7 2305.1L870.7 2305.9L876.7 2306.6L882.7 2307.4L888.7 2308.2L894.7 2309.0L900.7 2309.9L906.7 2310.7L912.7 2311.5L918.7 2312.4L924.7 2313.3L930.7 2314.2L936.7 2315.1L942.7 2316.0L948.7 2316.9L954.7 2317.9L960.7 2318.8L966.7 2319.8L972.7 2320.8L978.7 2321.8L984.7 2322.8L990.7 2323.8L996.7 2324.8L1002.7 2325.9L1008.7 2326.9L1014.7 2328.0L1020.7 2329.1L1026.7 2330.2L1032.7 2331.3L1038.7 2332.4L1044.7 2333.5L1050.7 2334.7L1056.7 2335.8L1062.7 2337.0L1068.7 2338.2L1074.8 2339.4L1080.8 2340.6L1086.8 2341.8L1092.8 2343.0L1098.8 2344.3L1104.8 2345.5L1110.8 2346.8L1116.8 2348.0L1122.8 2349.3L1128.8 2350.6L1134.8 2351.9L1140.8 2353.2L1146.8 2354.5L1152.8 2355.9L1158.8 2357.2L1164.8 2358.5L1170.8 2359.9L1176.8 2361.2L1182.8 2362.6L1188.8 2364.0L1194.8 2365.3L1200.8 2366.7L1206.8 2368.1L1212.8 2369.5L1218.8 2370.9L1224.8 2372.3L1230.8 2373.7L1236.8 2375.1L1242.8 2376.5L1248.8 2377.9L1254.8 2379.3L1260.8 2380.7L1266.8 2382.2L1272.8 2383.6L1278.8 2385.0L1284.8 2386.4L1290.8 2387.9L1296.8 2389.3L1302.8 2390.7L1308.8 2392.1L1314.8 2393.5L1320.8 2395.0L1326.8 2396.4L1332.8 2397.8L1338.8 2399.2L1344.8 2400.6L1350.8 2402.0L1356.8 2403.4L1362.8 2404.8L1368.8 2406.2L1374.8 2407.5L1380.8 2408.9L1386.8 2410.3L1392.8 2411.6L1398.8 2413.0L1404.8 2414.4L1410.8 2415.7L1416.8 2417.0L1422.8 2418.3L1428.8 2419.7L1434.8 2421.0L1440.8 2422.3L1446.8 2423.6L1452.8 2424.8L1458.8 2426.1L1464.8 2427.4L1470.8 2428.6L1476.8 2429.9L1482.8 2431.1L1488.8 2432.3L1494.8 2433.5L1500.8 2434.7L1506.8 2435.9L1512.8 2437.0L1518.8 2438.2L1524.8 2439.4L1530.8 2440.5L1536.8 2441.6L1542.8 2442.7L1548.8 2443.8L1554.9 2444.9L1560.9 2446.0L1566.9 2447.0L1572.9 2448.1L1578.9 2449.1L1584.9 2450.1L1590.9 2451.1L1596.9 2452.1L1602.9 2453.1L1608.9 2454.1L1614.9 2455.0L1620.9 2456.0L1626.9 2456.9L1632.9 2457.8L1638.9 2458.7L1644.9 2459.6L1650.9 2460.5L1656.9 2461.4L1662.9 2462.2L1668.9 2463.1L1674.9 2463.9L1680.9 2464.7L1686.9 2465.5L1692.9 2466.3L1698.9 2467.1L1704.9 2467.8L1710.9 2468.6L1716.9 2469.3L1722.9 2470.0L1728.9 2470.8L1734.9 2471.5L1740.9 2472.1L1746.9 2472.8L1752.9 2473.5L1758.9 2474.1L1764.9 2474.8L1770.9 2475.4L1776.9 2476.0L1782.9 2476.6L1788.9 2477.2L1794.9 2477.8L1800.9 2478.4L1806.9 2479.0L1812.9 2479.5L1818.9 2480.1L1824.9 2480.6L1830.9 2481.1L1836.9 2481.7L1842.9 2482.2L1848.9 2482.7L1854.9 2483.1L1860.9 2483.6L1866.9 2484.1L1872.9 2484.5L1878.9 2485.0L1884.9 2485.4L1890.9 2485.9L1896.9 2486.3L1902.9 2486.7L1908.9 2487.1L1914.9 2487.5L1920.9 2487.9L1926.9 2488.3L1932.9 2488.7L1938.9 2489.0L1944.9 2489.4L1950.9 2489.7L1956.9 2490.1L1962.9 2490.4L1968.9 2490.8L1974.9 2491.1L1980.9 2491.4L1986.9 2491.7L1992.9 2492.0L1998.9 2492.3L2004.9 2492.6L2010.9 2492.9L2016.9 2493.2L2022.9 2493.4L2028.9 2493.7L2035.0 2494.0L2041.0 2494.2L2047.0 2494.5L2053.0 2494.7L2059.0 2495.0L2065.0 2495.2L2071.0 2495.4L2077.0 2495.7L2083.0 2495.9L2089.0 2496.1L2095.0 2496.3L2101.0 2496.5L2107.0 2496.7L2113.0 2496.9L2119.0 2497.1L2125.0 2497.3L2131.0 2497.5L2137.0 2497.7L2143.0 2497.8L2149.0 2498.0L2155.0 2498.2L2161.0 2498.3L2167.0 2498.5L2173.0 2498.7L2179.0 2498.8L2185.0 2499.0L2191.0 2499.1L2197.0 2499.3L2203.0 2499.4L2209.0 2499.5L2215.0 2499.7L2221.0 2499.8L2227.0 2499.9L2233.0 2500.1L2239.0 2500.2L2245.0 2500.3L2251.0 2500.4L2257.0 2500.5L2263.0 2500.6L2269.0 2500.7"/>
<path d="M354.6 2518.4L360.6 2518.3L366.6 2518.1L372.6 2517.9L378.6 2517.7L384.6 2517.5L390.6 2517.2L396.6 2517.0L402.6 2516.8L408.6 2516.6L414.6 2516.4L420.6 2516.1L426.6 2515.9L432.6 2515.6L438.6 2515.4L444.6 2515.1L450.6 2514.9L456.6 2514.6L462.6 2514.3L468.6 2514.0L474.6 2513.8L480.6 2513.5L486.6 2513.2L492.6 2512.9L498.6 2512.5L504.6 2512.2L510.6 2511.9L516.6 2511.6L522.6 2511.2L528.6 2510.9L534.6 2510.5L540.6 2510.2L546.6 2509.8L552.6 2509.4L558.6 2509.0L564.6 2508.6L570.6 2508.2L576.6 2507.8L582.6 2507.4L588.6 2506.9L594.7 2506.5L600.7 2506.1L606.7 2505.6L612.7 2505.1L618.7 2504.6L624.7 2504.2L630.7 2503.7L636.7 2503.1L642.7 2502.6L648.7 2502.1L654.7 2501.6L660.7 2501.0L666.7 2500.4L672.7 2499.9L678.7 2499.3L684.7 2498.7L690.7 2498.1L696.7 2497.4L702.7 2496.8L708.7 2496.2L714.7 2495.5L720.7 2494.8L726.7 2494.1L732.7 2493.4L738.7 2492.7L744.7 2492.0L750.7 2491.3L756.7 2490.5L762.7 2489.8L768.7 2489.0L774.7 2488.2L780.7 2487.4L786.7 2486.5L792.7 2485.7L798.7 2484.8L804.7 2484.0L810.7 2483.1L816.7 2482.2L822.7 2481.3L828.7 2480.3L834.7 2479.4L840.7 2478.4L846.7 2477.5L852.7 2476.5L858.7 2475.4L864.7 2474.4L870.7 2473.4L876.7 2472.3L882.7 2471.2L888.7 2470.1L894.7 2469.0L900.7 2467.9L906.7 2466.7L912.7 2465.6L918.7 2464.4L924.7 2463.2L930.7 2462.0L936.7 2460.8L942.7 2459.5L948.7 2458.2L954.7 2457.0L960.7 2455.7L966.7 2454.3L972.7 2453.0L978.7 2451.6L984.7 2450.3L990.7 2448.9L996.7 2447.5L1002.7 2446.1L1008.7 2444.6L1014.7 2443.2L1020.7 2441.7L1026.7 2440.2L1032.7 2438.7L1038.7 2437.2L1044.7 2435.7L1050.7 2434.1L1056.7 2432.5L1062.7 2431.0L1068.7 2429.4L1074.8 2427.8L1080.8 2426.1L1086.8 2424.5L1092.8 2422.9L1098.8 2421.2L1104.8 2419.5L1110.8 2417.8L1116.8 2416.1L1122.8 2414.4L1128.8 2412.7L1134.8 2410.9L1140.8 2409.2L1146.8 2407.4L1152.8 2405.7L1158.8 2403.9L1164.8 2402.1L1170.8 2400.3L1176.8 2398.5L1182.8 2396.7L1188.8 2394.8L1194.8 2393.0L1200.8 2391.2L1206.8 2389.3L1212.8 2387.5L1218.8 2385.6L1224.8 2383.8L1230.8 2381.9L1236.8 2380.1L1242.8 2378.2L1248.8 2376.3L1254.8 2374.5L1260.8 2372.6L1266.8 2370.7L1272.8 2368.8L1278.8 2367.0L1284.8 2365.1L1290.8 2363.2L1296.8 2361.3L1302.8 2359.5L1308.8 2357.6L1314.8 2355.8L1320.8 2353.9L1326.8 2352.1L1332.8 2350.2L1338.8 2348.4L1344.8 2346.5L1350.8 2344.7L1356.8 2342.9L1362.8 2341.1L1368.8 2339.3L1374.8 2337.5L1380.8 2335.7L1386.8 2333.9L1392.8 2332.1L1398.8 2330.4L1404.8 2328.6L1410.8 2326.9L1416.8 2325.1L1422.8 2323.4L1428.8 2321.7L1434.8 2320.0L1440.8 2318.4L1446.8 2316.7L1452.8 2315.0L1458.8 2313.4L1464.8 2311.8L1470.8 2310.2L1476.8 2308.6L1482.8 2307.0L1488.8 2305.4L1494.8 2303.9L1500.8 2302.4L1506.8 2300.8L1512.8 2299.3L1518.8 2297.9L1524.8 2296.4L1530.8 2294.9L1536.8 2293.5L1542.8 2292.1L1548.8 2290.7L1554.9 2289.3L1560.9 2287.9L1566.9 2286.6L1572.9 2285.2L1578.9 2283.9L1584.9 2282.6L1590.9 2281.3L1596.9 2280.1L1602.9 2278.8L1608.9 2277.6L1614.9 2276.4L1620.9 2275.2L1626.9 2274.0L1632.9 2272.8L1638.9 2271.7L1644.9 2270.5L1650.9 2269.4L1656.9 2268.3L1662.9 2267.3L1668.9 2266.2L1674.9 2265.2L1680.9 2264.1L1686.9 2263.1L1692.9 2262.1L1698.9 2261.1L1704.9 2260.2L1710.9 2259.2L1716.9 2258.3L1722.9 2257.4L1728.9 2256.5L1734.9 2255.6L1740.9 2254.7L1746.9 2253.9L1752.9 2253.0L1758.9 2252.2L1764.9 2251.4L1770.9 2250.6L1776.9 2249.8L1782.9 2249.1L1788.9 2248.3L1794.9 2247.6L1800.9 2246.8L1806.9 2246.1L1812.9 2245.4L1818.9 2244.8L1824.9 2244.1L1830.9 2243.4L1836.9 2242.8L1842.9 2242.1L1848.9 2241.5L1854.9 2240.9L1860.9 2240.3L1866.9 2239.7L1872.9 2239.1L1878.9 2238.6L1884.9 2238.0L1890.9 2237.5L1896.9 2237.0L1902.9 2236.4L1908.9 2235.9L1914.9 2235.4L1920.9 2234.9L1926.9 2234.5L1932.9 2234.0L1938.9 2233.5L1944.9 2233.1L1950.9 2232.6L1956.9 2232.2L1962.9 2231.8L1968.9 2231.4L1974.9 2231.0L1980.9 2230.6L1986.9 2230.2L1992.9 2229.8L1998.9 2229.4L2004.9 2229.1L2010.9 2228.7L2016.9 2228.4L2022.9 2228.0L2028.9 2227.7L2035.0 2227.4L2041.0 2227.1L2047.0 2226.7L2053.0 2226.4L2059.0 2226.1L2065.0 2225.8L2071.0 2225.6L2077.0 2225.3L2083.0 2225.0L2089.0 2224.7L2095.0 2224.5L2101.0 2224.2L2107.0 2224.0L2113.0 2223.7L2119.0 2223.5L2125.0 2223.2L2131.0 2223.0L2137.0 2222.8L2143.0 2222.6L2149.0 2222.4L2155.0 2222.1L2161.0 2221.9L2167.0 2221.7L2173.0 2221.5L2179.0 2221.4L2185.0 2221.2L2191.0 2221.0L2197.0 2220.8L2203.0 2220.6L2209.0 2220.5L2215.0 2220.3L2221.0 2220.1L2227.0 2220.0L2233.0 2219.8L2239.0 2219.7L2245.0 2219.5L2251.0 2219.4L2257.0 2219.2L2263.0 2219.1L2269.0 2218.9"/>
<path d="M354.6 1967.9L360.6 1968.3L366.6 1968.8L372.6 1969.2L378.6 1969.7L384.6 1970.1L390.6 1970.6L396.6 1971.1L402.6 1971.6L408.6 1972.1L414.6 1972.6L420.6 1973.1L426.6 1973.7L432.6 1974.2L438.6 1974.8L444.6 1975.4L450.6 1976.0L456.6 1976.6L462.6 1977.2L468.6 1977.9L474.6 1978.5L480.6 1979.2L486.6 1979.9L492.6 1980.5L498.6 1981.3L504.6 1982.0L510.6 1982.7L516.6 1983.5L522.6 1984.3L528.6 1985.1L534.6 1985.9L540.6 1986.7L546.6 1987.5L552.6 1988.4L558.6 1989.3L564.6 1990.2L570.6 1991.1L576.6 1992.1L582.6 1993.0L588.6 1994.0L594.7 1995.0L600.7 1996.0L606.7 1997.1L612.7 1998.1L618.7 1999.2L624.7 2000.3L630.7 2001.5L636.7 2002.6L642.7 2003.8L648.7 2005.0L654.7 2006.3L660.7 2007.5L666.7 2008.8L672.7 2010.1L678.7 2011.5L684.7 2012.9L690.7 2014.2L696.7 2015.7L702.7 2017.1L708.7 2018.6L714.7 2020.1L720.7 2021.7L726.7 2023.2L732.7 2024.8L738.7 2026.5L744.7 2028.1L750.7 2029.8L756.7 2031.5L762.7 2033.3L768.7 2035.1L774.7 2036.9L780.7 2038.8L786.7 2040.7L792.7 2042.6L798.7 2044.6L804.7 2046.6L810.7 2048.6L816.7 2050.7L822.7 2052.8L828.7 2055.0L834.7 2057.1L840.7 2059.4L846.7 2061.6L852.7 2063.9L858.7 2066.3L864.7 2068.7L870.7 2071.1L876.7 2073.5L882.7 2076.0L888.7 2078.6L894.7 2081.2L900.7 2083.8L906.7 2086.4L912.7 2089.2L918.7 2091.9L924.7 2094.7L930.7 2097.5L936.7 2100.4L942.7 2103.3L948.7 2106.3L954.7 2109.3L960.7 2112.3L966.7 2115.4L972.7 2118.5L978.7 2121.7L984.7 2124.9L990.7 2128.1L996.7 2131.4L1002.7 2134.8L1008.7 2138.1L1014.7 2141.6L1020.7 2145.0L1026.7 2148.5L1032.7 2152.1L1038.7 2155.6L1044.7 2159.3L1050.7 2162.9L1056.7 2166.6L1062.7 2170.4L1068.7 2174.1L1074.8 2177.9L1080.8 2181.8L1086.8 2185.7L1092.8 2189.6L1098.8 2193.6L1104.8 2197.6L1110.8 2201.6L1116.8 2205.6L1122.8 2209.7L1128.8 2213.9L1134.8 2218.0L1140.8 2222.2L1146.8 2226.4L1152.8 2230.7L1158.8 2234.9L1164.8 2239.2L1170.8 2243.5L1176.8 2247.9L1182.8 2252.3L1188.8 2256.7L1194.8 2261.1L1200.8 2265.5L1206.8 2269.9L1212.8 2274.4L1218.8 2278.9L1224.8 2283.4L1230.8 2287.9L1236.8 2292.4L1242.8 2297.0L1248.8 2301.5L1254.8 2306.1L1260.8 2310.7L1266.8 2315.2L1272.8 2319.8L1278.8 2324.4L1284.8 2329.0L1290.8 2333.5L1296.8 2338.1L1302.8 2342.7L1308.8 2347.3L1314.8 2351.9L1320.8 2356.4L1326.8 2361.0L1332.8 2365.6L1338.8 2370.1L1344.8 2374.6L1350.8 2379.2L1356.8 2383.7L1362.8 2388.2L1368.8 2392.7L1374.8 2397.1L1380.8 2401.6L1386.8 2406.0L1392.8 2410.4L1398.8 2414.8L1404.8 2419.2L1410.8 2423.5L1416.8 2427.8L1422.8 2432.1L1428.8 2436.4L1434.8 2440.6L1440.8 2444.8L1446.8 2449.0L1452.8 2453.2L1458.8 2457.3L1464.8 2461.4L1470.8 2465.4L1476.8 2469.4L1482.8 2473.4L1488.8 2477.4L1494.8 2481.3L1500.8 2485.2L1506.8 2489.0L1512.8 2492.8L1518.8 2496.6L1524.8 2500.3L1530.8 2504.0L1536.8 2507.7L1542.8 2511.3L1548.8 2514.9L1554.9 2518.4L1560.9 2521.9L1566.9 2525.3L1572.9 2528.8L1578.9 2532.1L1584.9 2535.5L1590.9 2538.7L1596.9 2542.0L1602.9 2545.2L1608.9 2548.3L1614.9 2551.5L1620.9 2554.5L1626.9 2557.6L1632.9 2560.6L1638.9 2563.5L1644.9 2566.4L1650.9 2569.3L1656.9 2572.1L1662.9 2574.9L1668.9 2577.6L1674.9 2580.3L1680.9 2583.0L1686.9 2585.6L1692.9 2588.2L1698.9 2590.7L1704.9 2593.2L1710.9 2595.7L1716.9 2598.1L1722.9 2600.4L1728.9 2602.8L1734.9 2605.1L1740.9 2607.3L1746.9 2609.5L1752.9 2611.7L1758.9 2613.9L1764.9 2616.0L1770.9 2618.0L1776.9 2620.1L1782.9 2622.1L1788.9 2624.0L1794.9 2626.0L1800.9 2627.9L1806.9 2629.7L1812.9 2631.5L1818.9 2633.3L1824.9 2635.1L1830.9 2636.8L1836.9 2638.5L1842.9 2640.1L1848.9 2641.8L1854.9 2643.4L1860.9 2644.9L1866.9 2646.5L1872.9 2648.0L1878.9 2649.4L1884.9 2650.9L1890.9 2652.3L1896.9 2653.7L1902.9 2655.1L1908.9 2656.4L1914.9 2657.7L1920.9 2659.0L1926.9 2660.2L1932.9 2661.5L1938.9 2662.7L1944.9 2663.9L1950.9 2665.0L1956.9 2666.2L1962.9 2667.3L1968.9 2668.4L1974.9 2669.4L1980.9 2670.5L1986.9 2671.5L1992.9 2672.5L1998.9 2673.5L2004.9 2674.4L2010.9 2675.4L2016.9 2676.3L2022.9 2677.2L2028.9 2678.1L2035.0 2678.9L2041.0 2679.8L2047.0 2680.6L2053.0 2681.4L2059.0 2682.2L2065.0 2683.0L2071.0 2683.7L2077.0 2684.5L2083.0 2685.2L2089.0 2685.9L2095.0 2686.6L2101.0 2687.3L2107.0 2687.9L2113.0 2688.6L2119.0 2689.2L2125.0 2689.8L2131.0 2690.4L2137.0 2691.0L2143.0 2691.6L2149.0 2692.2L2155.0 2692.7L2161.0 2693.3L2167.0 2693.8L2173.0 2694.3L2179.0 2694.8L2185.0 2695.3L2191.0 2695.8L2197.0 2696.3L2203.0 2696.7L2209.0 2697.2L2215.0 2697.6L2221.0 2698.1L2227.0 2698.5L2233.0 2698.9L2239.0 2699.3L2245.0 2699.7L2251.0 2700.1L2257.0 2700.5L2263.0 2700.8L2269.0 2701.2"/>
</g>
<g stroke="#000" fill="none" stroke-width="4.5">
<path d="M328.6 1827.5 H2293.0"/>
<path d="M328.6 3076.0 H2293.0"/>
<path d="M354.6 1827.5 V3076.0"/>
<path d="M2269.0 1827.5 V3089.0"/>
<path d="M328.6 2243.7 H354.6"/>
<path d="M328.6 2659.8 H354.6"/>
<path d="M341.6 2035.6 H354.6"/>
<path d="M341.6 2451.8 H354.6"/>
<path d="M341.6 2867.9 H354.6"/>
<path d="M2269.0 2139.6 H2293.0"/>
<path d="M2269.0 2451.8 H2293.0"/>
<path d="M2269.0 2763.9 H2293.0"/>
<path d="M2269.0 1983.6 H2281.0"/>
<path d="M2269.0 2295.7 H2281.0"/>
<path d="M2269.0 2607.8 H2281.0"/>
<path d="M2269.0 2919.9 H2281.0"/>
<path d="M819.9 3076.0 V3101.0"/>
<path d="M1398.7 3076.0 V3101.0"/>
<path d="M1977.4 3076.0 V3101.0"/>
<path d="M530.5 3076.0 V3089.0"/>
<path d="M1109.3 3076.0 V3089.0"/>
<path d="M1688.0 3076.0 V3089.0"/>
</g>
<text transform="translate(309 1852.5) scale(1 1.04)" font-size="84" text-anchor="end">2.0</text>
<text transform="translate(309 2268.7) scale(1 1.04)" font-size="84" text-anchor="end">1.6</text>
<text transform="translate(309 2684.8) scale(1 1.04)" font-size="84" text-anchor="end">1.2</text>
<text transform="translate(309 3101.0) scale(1 1.04)" font-size="84" text-anchor="end">0.8</text>
<text transform="translate(2314 1848.0) scale(1 1.04)" font-size="69">0.40</text>
<text transform="translate(2314 2160.1) scale(1 1.04)" font-size="69">0.38</text>
<text transform="translate(2314 2472.3) scale(1 1.04)" font-size="69">0.36</text>
<text transform="translate(2314 2784.4) scale(1 1.04)" font-size="69">0.34</text>
<text transform="translate(2314 3096.5) scale(1 1.04)" font-size="69">0.32</text>
<text transform="translate(819.9 3187) scale(1 1.04)" font-size="84" text-anchor="middle">8.0</text>
<text transform="translate(1398.7 3187) scale(1 1.04)" font-size="84" text-anchor="middle">9.0</text>
<text transform="translate(1980.9 3187) scale(1 1.04)" font-size="84" text-anchor="middle">10.0</text>
<text x="1335.5" y="3346.5" font-size="94" text-anchor="middle">pH</text>
<text transform="translate(138 2445) rotate(-90) scale(0.935 1)" font-size="120" class="it" text-anchor="middle">A</text>
<text x="2205.5" y="1944.5" font-size="116" text-anchor="middle">B</text>
<text transform="translate(2252 2165) scale(1 1.04)" font-size="85.5" text-anchor="end">272 nm</text>
<text transform="translate(2252 2440) scale(1 1.04)" font-size="85.5" text-anchor="end">230 nm</text>
<text transform="translate(2017 2779) scale(1 1.04)" font-size="85.5" text-anchor="end">310 nm</text>
<text transform="translate(2252 3009) scale(1 1.04)" font-size="85.5" text-anchor="end">283 nm</text>
<path d="M2058 2763.3 H2180" stroke="#008000" stroke-width="6.6" fill="none"/>
<path d="M2230.5 2763.3 L2177 2752.3 L2177 2774.3 Z" fill="#008000"/>
</g>
</svg></body></html>
